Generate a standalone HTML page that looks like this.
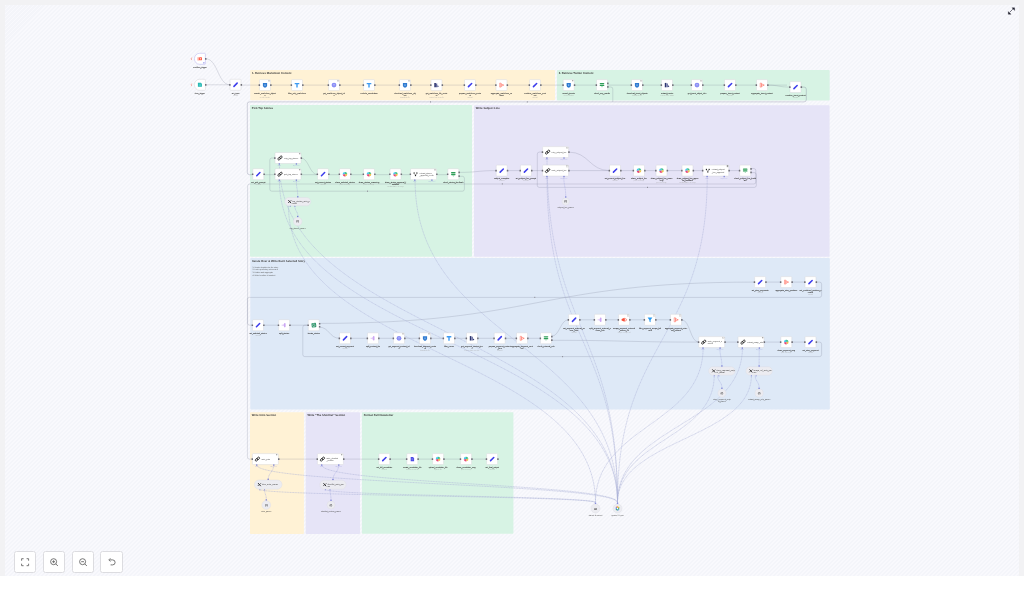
<!DOCTYPE html>
<html><head><meta charset="utf-8"><style>
html,body{margin:0;padding:0;width:1024px;height:601px;overflow:hidden;background:#fff;font-family:"Liberation Sans",sans-serif}
.frame{position:absolute;left:0;top:0;width:1024px;height:576px;background:#f2f2f4}
.canvas{position:absolute;left:5px;top:5px;width:1014px;height:571px;background-color:#f6f7fb;
background-image:repeating-linear-gradient(135deg,#f9f9fd 0px,#f9f9fd 1.4px,#f4f5fa 1.4px,#f4f5fa 2.83px)}
svg{position:absolute;left:0;top:0;will-change:transform}
svg text{font-family:"Liberation Sans",sans-serif;text-rendering:geometricPrecision}
.btn{position:absolute;top:551px;width:22.4px;height:22px;background:#fff;border:1px solid #dcdce0;border-radius:2.5px;box-sizing:border-box}
.btn svg{position:absolute;left:0;top:0;will-change:transform}
</style></head><body>
<div class="frame"></div>
<div class="canvas"></div>
<svg width="1024" height="601" viewBox="0 0 1024 601">
<rect x="250.2" y="70.0" width="304.8" height="30.2" rx="0.8" fill="#fff2d5"/>
<text x="252.00" y="74.20" font-size="2.75" font-weight="bold" fill="#3a3a3a">1. Retrieve Markdown Content</text>
<rect x="556.9" y="70.0" width="272.8" height="30.4" rx="0.8" fill="#d7f3e4"/>
<text x="558.70" y="74.20" font-size="2.75" font-weight="bold" fill="#3a3a3a">2. Retrieve Twitter Content</text>
<rect x="250.0" y="105.0" width="222.0" height="151.8" rx="0.8" fill="#d7f3e4"/>
<text x="251.80" y="109.20" font-size="2.75" font-weight="bold" fill="#3a3a3a">Pick Top Stories</text>
<rect x="474.0" y="105.2" width="355.6" height="151.6" rx="0.8" fill="#e6e4f7"/>
<text x="475.80" y="109.40" font-size="2.75" font-weight="bold" fill="#3a3a3a">Write Subject Line</text>
<rect x="250.3" y="258.0" width="579.5" height="151.6" rx="0.8" fill="#dee9f7"/>
<text x="252.10" y="262.20" font-size="2.75" font-weight="bold" fill="#3a3a3a">Iterate Over &amp; Write Each Selected Story</text>
<text x="252.50" y="267.50" font-size="1.9" fill="#555">1. Iterate identifier for the story</text>
<text x="252.50" y="270.20" font-size="1.9" fill="#555">2. Look up all story references</text>
<text x="252.50" y="272.90" font-size="1.9" fill="#555">3. Flatten and aggregate</text>
<text x="252.50" y="275.60" font-size="1.9" fill="#555">4. Write headline &amp; content</text>
<rect x="250.0" y="412.2" width="53.9" height="121.8" rx="0.8" fill="#fff2d5"/>
<text x="251.80" y="416.40" font-size="2.75" font-weight="bold" fill="#3a3a3a">Write Intro Section</text>
<rect x="305.7" y="412.2" width="54.3" height="121.8" rx="0.8" fill="#e6e4f7"/>
<text x="307.50" y="416.40" font-size="2.75" font-weight="bold" fill="#3a3a3a">Write "The Shortlist" Section</text>
<rect x="361.9" y="412.2" width="151.5" height="121.6" rx="0.8" fill="#d7f3e4"/>
<text x="363.70" y="416.40" font-size="2.75" font-weight="bold" fill="#3a3a3a">Format Full Newsletter</text>
<path d="M205.70,58.80 C217.85,58.80 217.85,84.80 230.00,84.80" fill="none" stroke="rgba(105,110,135,0.30)" stroke-width="0.7"/>
<path d="M205.70,84.80 L230.00,84.80" fill="none" stroke="rgba(105,110,135,0.30)" stroke-width="0.7"/>
<path d="M241.00,85.10 L787.00,85.10" fill="none" stroke="rgba(105,110,135,0.30)" stroke-width="0.7"/>
<path d="M767.30,85.10 C778.65,85.10 778.65,87.10 790.00,87.10" fill="none" stroke="rgba(105,110,135,0.30)" stroke-width="0.7"/>
<path d="M801.00,87.10 L804.10,87.10 Q806.30,87.10 806.30,89.30 L806.30,99.70 Q806.30,101.90 804.10,101.90 L249.50,101.90 Q247.30,101.90 247.30,104.10 L247.30,172.50 Q247.30,174.70 249.50,174.70 L252.80,174.70" fill="none" stroke="rgba(105,110,135,0.30)" stroke-width="0.95"/>
<path d="M607.50,87.00 L610.80,87.00 Q612.80,87.00 612.80,89.00 L612.80,101.90" fill="none" stroke="rgba(105,110,135,0.30)" stroke-width="0.7"/>
<path d="M263.80,174.70 L275.00,174.70" fill="none" stroke="rgba(105,110,135,0.30)" stroke-width="0.7"/>
<path d="M300.50,158.00 C309.15,158.00 309.15,174.70 317.80,174.70" fill="none" stroke="rgba(105,110,135,0.30)" stroke-width="0.7"/>
<path d="M300.50,174.70 L447.80,174.70" fill="none" stroke="rgba(105,110,135,0.30)" stroke-width="0.7"/>
<path d="M458.70,172.40 C477.45,172.40 477.45,170.60 496.20,170.60" fill="none" stroke="rgba(105,110,135,0.30)" stroke-width="0.7"/>
<path d="M458.70,176.30 L462.40,176.30 Q464.40,176.30 464.40,178.30 L464.40,189.20 Q464.40,191.20 462.40,191.20 L271.80,191.20 Q269.80,191.20 269.80,189.20 L269.80,160.00 Q269.80,158.00 271.80,158.00 L275.00,158.00" fill="none" stroke="rgba(105,110,135,0.30)" stroke-width="0.7"/>
<path d="M507.00,170.60 L542.60,170.60" fill="none" stroke="rgba(105,110,135,0.30)" stroke-width="0.7"/>
<path d="M568.60,152.10 C589.15,152.10 589.15,170.60 609.70,170.60" fill="none" stroke="rgba(105,110,135,0.30)" stroke-width="0.7"/>
<path d="M568.60,170.60 L739.70,170.60" fill="none" stroke="rgba(105,110,135,0.30)" stroke-width="0.7"/>
<path d="M750.40,168.50 L753.80,168.50 Q755.80,168.50 755.80,170.50 L755.80,182.00 Q755.80,184.00 753.80,184.00 L249.60,184.00 Q247.60,184.00 247.60,186.00 L247.60,323.20 Q247.60,325.20 249.60,325.20 L252.50,325.20" fill="none" stroke="rgba(105,110,135,0.30)" stroke-width="0.7"/>
<path d="M750.40,172.60 L754.30,172.60 Q756.30,172.60 756.30,174.60 L756.30,185.40 Q756.30,187.40 754.30,187.40 L539.30,187.40 Q537.30,187.40 537.30,185.40 L537.30,154.10 Q537.30,152.10 539.30,152.10 L542.60,152.10" fill="none" stroke="rgba(105,110,135,0.30)" stroke-width="0.7"/>
<path d="M263.30,325.20 L308.30,325.20" fill="none" stroke="rgba(105,110,135,0.30)" stroke-width="0.7"/>
<path d="M319.00,323.40 C536.80,323.40 536.80,282.10 754.60,282.10" fill="none" stroke="rgba(105,110,135,0.30)" stroke-width="0.7"/>
<path d="M319.00,327.10 C329.30,327.10 329.30,338.30 339.60,338.30" fill="none" stroke="rgba(105,110,135,0.30)" stroke-width="0.7"/>
<path d="M350.40,338.30 L540.50,338.30" fill="none" stroke="rgba(105,110,135,0.30)" stroke-width="0.7"/>
<path d="M551.40,336.20 C560.00,336.20 560.00,319.80 568.60,319.80" fill="none" stroke="rgba(105,110,135,0.30)" stroke-width="0.7"/>
<path d="M579.20,319.80 L671.00,319.80" fill="none" stroke="rgba(105,110,135,0.30)" stroke-width="0.7"/>
<path d="M551.40,340.30 C625.05,340.30 625.05,342.10 698.70,342.10" fill="none" stroke="rgba(105,110,135,0.30)" stroke-width="0.7"/>
<path d="M681.60,319.80 C690.15,319.80 690.15,342.10 698.70,342.10" fill="none" stroke="rgba(105,110,135,0.30)" stroke-width="0.7"/>
<path d="M724.70,342.10 L805.00,342.10" fill="none" stroke="rgba(105,110,135,0.30)" stroke-width="0.7"/>
<path d="M816.00,342.10 L819.60,342.10 Q821.60,342.10 821.60,344.10 L821.60,354.60 Q821.60,356.60 819.60,356.60 L304.80,356.60 Q302.80,356.60 302.80,354.60 L302.80,327.20 Q302.80,325.20 304.80,325.20 L308.30,325.20" fill="none" stroke="rgba(105,110,135,0.30)" stroke-width="0.7"/>
<path d="M765.60,282.10 L805.00,282.10" fill="none" stroke="rgba(105,110,135,0.30)" stroke-width="0.7"/>
<path d="M816.00,282.10 L819.60,282.10 Q821.60,282.10 821.60,284.10 L821.60,295.40 Q821.60,297.40 819.60,297.40 L249.40,297.40 Q247.40,297.40 247.40,299.40 L247.40,457.10 Q247.40,459.10 249.40,459.10 L252.40,459.10" fill="none" stroke="rgba(105,110,135,0.30)" stroke-width="0.7"/>
<path d="M278.40,459.10 L486.60,459.10" fill="none" stroke="rgba(105,110,135,0.30)" stroke-width="0.7"/>
<rect x="430.05" y="101.30" width="0.9" height="1.2" fill="#8a8a94"/>
<rect x="526.85" y="101.30" width="0.9" height="1.2" fill="#8a8a94"/>
<rect x="501.85" y="183.30" width="0.9" height="1.2" fill="#8a8a94"/>
<rect x="367.05" y="190.60" width="0.9" height="1.2" fill="#8a8a94"/>
<rect x="647.05" y="186.80" width="0.9" height="1.2" fill="#8a8a94"/>
<rect x="562.15" y="356.00" width="0.9" height="1.2" fill="#8a8a94"/>
<rect x="534.35" y="296.80" width="0.9" height="1.2" fill="#8a8a94"/>
<path d="M296.30,180.30 C296.30,188.80 297.80,188.80 297.80,197.30" fill="none" stroke="#a3a7dd" stroke-width="0.45" stroke-dasharray="1.2 0.4"/>
<path d="M294.90,206.00 C294.90,211.40 298.00,211.40 298.00,216.80" fill="none" stroke="#a3a7dd" stroke-width="0.45" stroke-dasharray="1.2 0.4"/>
<path d="M563.80,176.30 C563.80,186.40 565.70,186.40 565.70,196.50" fill="none" stroke="#a3a7dd" stroke-width="0.45" stroke-dasharray="1.2 0.4"/>
<path d="M719.90,347.80 C719.90,357.15 721.90,357.15 721.90,366.50" fill="none" stroke="#a3a7dd" stroke-width="0.45" stroke-dasharray="1.2 0.4"/>
<path d="M717.60,375.30 C717.60,381.55 721.90,381.55 721.90,387.80" fill="none" stroke="#a3a7dd" stroke-width="0.45" stroke-dasharray="1.2 0.4"/>
<path d="M759.20,347.80 C759.20,357.15 759.10,357.15 759.10,366.50" fill="none" stroke="#a3a7dd" stroke-width="0.45" stroke-dasharray="1.2 0.4"/>
<path d="M755.20,375.30 C755.20,381.55 759.10,381.55 759.10,387.80" fill="none" stroke="#a3a7dd" stroke-width="0.45" stroke-dasharray="1.2 0.4"/>
<path d="M273.60,465.00 C273.60,472.45 268.20,472.45 268.20,479.90" fill="none" stroke="#a3a7dd" stroke-width="0.45" stroke-dasharray="1.2 0.4"/>
<path d="M264.60,489.30 C264.60,494.35 266.30,494.35 266.30,499.40" fill="none" stroke="#a3a7dd" stroke-width="0.45" stroke-dasharray="1.2 0.4"/>
<path d="M338.60,465.00 C338.60,472.50 333.00,472.50 333.00,480.00" fill="none" stroke="#a3a7dd" stroke-width="0.45" stroke-dasharray="1.2 0.4"/>
<path d="M330.00,489.30 C330.00,494.55 331.00,494.55 331.00,499.80" fill="none" stroke="#a3a7dd" stroke-width="0.45" stroke-dasharray="1.2 0.4"/>
<path d="M279.40,180.30 C279.40,341.45 617.50,341.45 617.50,502.60" fill="none" stroke="#aab1d6" stroke-width="0.5" stroke-dasharray="1.2 0.4"/>
<path d="M288.50,206.00 C288.50,354.30 595.50,354.30 595.50,502.60" fill="none" stroke="#aab1d6" stroke-width="0.5" stroke-dasharray="1.2 0.4"/>
<path d="M279.40,163.50 C279.40,333.05 617.50,333.05 617.50,502.60" fill="none" stroke="#aab1d6" stroke-width="0.5" stroke-dasharray="1.2 0.4"/>
<path d="M415.10,180.30 C415.10,341.45 617.50,341.45 617.50,502.60" fill="none" stroke="#aab1d6" stroke-width="0.5" stroke-dasharray="1.2 0.4"/>
<path d="M547.00,176.30 C547.00,339.45 617.50,339.45 617.50,502.60" fill="none" stroke="#aab1d6" stroke-width="0.5" stroke-dasharray="1.2 0.4"/>
<path d="M547.00,157.60 C547.00,330.10 617.50,330.10 617.50,502.60" fill="none" stroke="#aab1d6" stroke-width="0.5" stroke-dasharray="1.2 0.4"/>
<path d="M707.20,176.30 C707.20,339.45 617.50,339.45 617.50,502.60" fill="none" stroke="#aab1d6" stroke-width="0.5" stroke-dasharray="1.2 0.4"/>
<path d="M703.10,347.80 C703.10,425.20 595.50,425.20 595.50,502.60" fill="none" stroke="#aab1d6" stroke-width="0.5" stroke-dasharray="1.2 0.4"/>
<path d="M714.20,375.30 C714.20,438.95 617.50,438.95 617.50,502.60" fill="none" stroke="#aab1d6" stroke-width="0.5" stroke-dasharray="1.2 0.4"/>
<path d="M742.40,347.80 C742.40,425.20 617.50,425.20 617.50,502.60" fill="none" stroke="#aab1d6" stroke-width="0.5" stroke-dasharray="1.2 0.4"/>
<path d="M751.40,375.30 C751.40,438.95 617.50,438.95 617.50,502.60" fill="none" stroke="#aab1d6" stroke-width="0.5" stroke-dasharray="1.2 0.4"/>
<path d="M256.80,465.00 C256.80,483.80 617.50,483.80 617.50,502.60" fill="none" stroke="#aab1d6" stroke-width="0.5" stroke-dasharray="1.2 0.4"/>
<path d="M259.90,489.30 C259.90,495.95 595.50,495.95 595.50,502.60" fill="none" stroke="#aab1d6" stroke-width="0.5" stroke-dasharray="1.2 0.4"/>
<path d="M321.80,465.00 C321.80,483.80 617.50,483.80 617.50,502.60" fill="none" stroke="#aab1d6" stroke-width="0.5" stroke-dasharray="1.2 0.4"/>
<path d="M325.30,489.30 C325.30,495.95 595.50,495.95 595.50,502.60" fill="none" stroke="#aab1d6" stroke-width="0.5" stroke-dasharray="1.2 0.4"/>
<path d="M199.60,53.30 L204.60,53.30 Q205.40,53.30 205.40,54.10 L205.40,63.50 Q205.40,64.30 204.60,64.30 L199.60,64.30 A5.2,5.5 0 0 1 199.60,53.30Z" fill="#fff" stroke="#b9b5ef" stroke-width="0.55"/>
<path d="M191.80,57.50 L191.00,58.90 L191.70,58.90 L191.30,60.10" fill="none" stroke="#f26b5b" stroke-width="0.45"/>
<circle cx="203.90" cy="62.80" r="0.6" fill="#5a5ae0"/>
<rect x="205.00" y="58.00" width="1.5" height="1.7" rx="0.3" fill="#6f6f78"/>
<g transform="translate(199.90,58.80) scale(1.0)"><path d="M-2.2,-1.6 L-1.4,-1.6 L-1.4,1.6 L-2.2,1.6Z" fill="#ff5b47"/><rect x="-0.9" y="-1.5" width="3" height="3" rx="0.6" fill="#ff5b47"/><circle cx="0.6" cy="0" r="0.7" fill="#ffd0c8"/></g>
<text x="199.90" y="67.50" font-size="1.9" fill="#383838" text-anchor="middle" stroke="#383838" stroke-width="0.045">workflow_trigger</text>
<path d="M199.60,79.30 L204.60,79.30 Q205.40,79.30 205.40,80.10 L205.40,89.50 Q205.40,90.30 204.60,90.30 L199.60,90.30 A5.2,5.5 0 0 1 199.60,79.30Z" fill="#fff" stroke="#cfcfd4" stroke-width="0.45"/>
<path d="M191.80,83.50 L191.00,84.90 L191.70,84.90 L191.30,86.10" fill="none" stroke="#f26b5b" stroke-width="0.45"/>
<rect x="205.00" y="84.00" width="1.5" height="1.7" rx="0.3" fill="#6f6f78"/>
<g transform="translate(199.90,84.80) scale(1.0)"><path d="M-2,-2 L1,-2 L2,-1 L2,2 L-2,2Z" fill="#22b5b0"/><path d="M-1.2,-0.6 L1.2,-0.6 M-1.2,0.6 L1.2,0.6" stroke="#bff" stroke-width="0.3"/></g>
<text x="199.90" y="93.50" font-size="1.9" fill="#383838" text-anchor="middle" stroke="#383838" stroke-width="0.045">form_trigger</text>
<rect x="230.00" y="79.30" width="11.00" height="11.00" rx="0.9" fill="#fff" stroke="#d4d4d8" stroke-width="0.45"/>
<rect x="229.10" y="84.00" width="1.5" height="1.7" rx="0.3" fill="#6f6f78"/>
<rect x="240.60" y="84.00" width="1.5" height="1.7" rx="0.3" fill="#6f6f78"/>
<g transform="translate(235.50,84.80) scale(1.0)"><path d="M-1.55,1.55 L1.65,-1.65" stroke="#3d3dec" stroke-width="1.55" stroke-linecap="round"/></g>
<text x="235.50" y="93.50" font-size="1.9" fill="#383838" text-anchor="middle" stroke="#383838" stroke-width="0.045">set_input</text>
<text x="235.50" y="95.65" font-size="1.6" fill="#a0a0a0" text-anchor="middle">manual</text>
<rect x="259.50" y="79.60" width="11.00" height="11.00" rx="0.9" fill="#fff" stroke="#d4d4d8" stroke-width="0.45"/>
<rect x="258.60" y="84.30" width="1.5" height="1.7" rx="0.3" fill="#6f6f78"/>
<rect x="270.10" y="84.30" width="1.5" height="1.7" rx="0.3" fill="#6f6f78"/>
<g transform="translate(265.00,85.10) scale(1.0)"><path d="M-2.1,-2 L2.1,-2 L2.1,0.3 Q2.1,2 0,2.6 Q-2.1,2 -2.1,0.3 Z" fill="#2f7ad0"/><path d="M-0.5,-0.8 L0.5,-0.8 L0.5,0.9 L-0.5,0.9Z" fill="#8fc0f0"/></g>
<rect x="268.50" y="80.20" width="1.4" height="1.2" fill="none" stroke="#999" stroke-width="0.25"/>
<text x="265.00" y="93.80" font-size="1.9" fill="#383838" text-anchor="middle" stroke="#383838" stroke-width="0.045">search_markdown_object</text>
<text x="265.00" y="95.80" font-size="1.9" fill="#383838" text-anchor="middle" stroke="#383838" stroke-width="0.045">s</text>
<text x="265.00" y="97.95" font-size="1.6" fill="#a0a0a0" text-anchor="middle">search: bucket</text>
<rect x="291.50" y="79.60" width="11.00" height="11.00" rx="0.9" fill="#fff" stroke="#d4d4d8" stroke-width="0.45"/>
<rect x="290.60" y="84.30" width="1.5" height="1.7" rx="0.3" fill="#6f6f78"/>
<rect x="302.10" y="84.30" width="1.5" height="1.7" rx="0.3" fill="#6f6f78"/>
<g transform="translate(297.00,85.10) scale(1.0)"><path d="M-2.3,-2.2 L2.3,-2.2 L2.3,-0.9 L0.7,-0.9 L0.7,2.4 L-0.7,2.4 L-0.7,-0.9 L-2.3,-0.9Z" fill="#3d9bf2"/></g>
<text x="297.00" y="93.80" font-size="1.9" fill="#383838" text-anchor="middle" stroke="#383838" stroke-width="0.045">filter_only_markdown</text>
<rect x="328.50" y="79.60" width="11.00" height="11.00" rx="0.9" fill="#fff" stroke="#d4d4d8" stroke-width="0.45"/>
<rect x="327.60" y="84.30" width="1.5" height="1.7" rx="0.3" fill="#6f6f78"/>
<rect x="339.10" y="84.30" width="1.5" height="1.7" rx="0.3" fill="#6f6f78"/>
<g transform="translate(334.00,85.10) scale(1.0)"><circle r="2.4" fill="#8a8ef5"/><path d="M-1,-0.6 L1,-0.6 M-0.6,0.5 L0.6,0.5" stroke="#d4d6ff" stroke-width="0.4"/></g>
<rect x="337.50" y="80.20" width="1.4" height="1.2" fill="none" stroke="#999" stroke-width="0.25"/>
<text x="334.00" y="93.80" font-size="1.9" fill="#383838" text-anchor="middle" stroke="#383838" stroke-width="0.045">get_markdown_object_inf</text>
<text x="334.00" y="95.80" font-size="1.9" fill="#383838" text-anchor="middle" stroke="#383838" stroke-width="0.045">o</text>
<rect x="363.50" y="79.60" width="11.00" height="11.00" rx="0.9" fill="#fff" stroke="#d4d4d8" stroke-width="0.45"/>
<rect x="362.60" y="84.30" width="1.5" height="1.7" rx="0.3" fill="#6f6f78"/>
<rect x="374.10" y="84.30" width="1.5" height="1.7" rx="0.3" fill="#6f6f78"/>
<g transform="translate(369.00,85.10) scale(1.0)"><path d="M-2.3,-2.2 L2.3,-2.2 L2.3,-0.9 L0.7,-0.9 L0.7,2.4 L-0.7,2.4 L-0.7,-0.9 L-2.3,-0.9Z" fill="#3d9bf2"/></g>
<text x="369.00" y="93.80" font-size="1.9" fill="#383838" text-anchor="middle" stroke="#383838" stroke-width="0.045">exclude_newsletters</text>
<rect x="399.50" y="79.60" width="11.00" height="11.00" rx="0.9" fill="#fff" stroke="#d4d4d8" stroke-width="0.45"/>
<rect x="398.60" y="84.30" width="1.5" height="1.7" rx="0.3" fill="#6f6f78"/>
<rect x="410.10" y="84.30" width="1.5" height="1.7" rx="0.3" fill="#6f6f78"/>
<g transform="translate(405.00,85.10) scale(1.0)"><path d="M-2.1,-2 L2.1,-2 L2.1,0.3 Q2.1,2 0,2.6 Q-2.1,2 -2.1,0.3 Z" fill="#2f7ad0"/><path d="M-0.5,-0.8 L0.5,-0.8 L0.5,0.9 L-0.5,0.9Z" fill="#8fc0f0"/></g>
<rect x="408.50" y="80.20" width="1.4" height="1.2" fill="none" stroke="#999" stroke-width="0.25"/>
<text x="405.00" y="93.80" font-size="1.9" fill="#383838" text-anchor="middle" stroke="#383838" stroke-width="0.045">download_markdown_obj</text>
<text x="405.00" y="95.80" font-size="1.9" fill="#383838" text-anchor="middle" stroke="#383838" stroke-width="0.045">ect</text>
<text x="405.00" y="97.95" font-size="1.6" fill="#a0a0a0" text-anchor="middle">download: file</text>
<rect x="431.00" y="79.60" width="11.00" height="11.00" rx="0.9" fill="#fff" stroke="#d4d4d8" stroke-width="0.45"/>
<rect x="430.10" y="84.30" width="1.5" height="1.7" rx="0.3" fill="#6f6f78"/>
<rect x="441.60" y="84.30" width="1.5" height="1.7" rx="0.3" fill="#6f6f78"/>
<g transform="translate(436.50,85.10) scale(1.0)"><path d="M-2.2,-2.2 L-0.6,-2.2 L-0.6,2.2 L-2.2,2.2Z" fill="#2c3470"/><path d="M-0.3,-1.6 L0.7,-1.6 L0.7,2.2 L-0.3,2.2Z" fill="#3b4487"/><path d="M1,0.2 L2.4,1.2 L1,2.2Z" fill="#2c3470"/></g>
<text x="436.50" y="93.80" font-size="1.9" fill="#383838" text-anchor="middle" stroke="#383838" stroke-width="0.045">get_markdown_file_conte</text>
<text x="436.50" y="95.80" font-size="1.9" fill="#383838" text-anchor="middle" stroke="#383838" stroke-width="0.045">nt</text>
<text x="436.50" y="97.95" font-size="1.6" fill="#a0a0a0" text-anchor="middle">Extract from Text File</text>
<rect x="464.50" y="79.60" width="11.00" height="11.00" rx="0.9" fill="#fff" stroke="#d4d4d8" stroke-width="0.45"/>
<rect x="463.60" y="84.30" width="1.5" height="1.7" rx="0.3" fill="#6f6f78"/>
<rect x="475.10" y="84.30" width="1.5" height="1.7" rx="0.3" fill="#6f6f78"/>
<g transform="translate(470.00,85.10) scale(1.0)"><path d="M-1.55,1.55 L1.65,-1.65" stroke="#3d3dec" stroke-width="1.55" stroke-linecap="round"/></g>
<text x="470.00" y="93.80" font-size="1.9" fill="#383838" text-anchor="middle" stroke="#383838" stroke-width="0.045">prepare_markdown_conte</text>
<text x="470.00" y="95.80" font-size="1.9" fill="#383838" text-anchor="middle" stroke="#383838" stroke-width="0.045">nt</text>
<text x="470.00" y="97.95" font-size="1.6" fill="#a0a0a0" text-anchor="middle">manual</text>
<rect x="496.00" y="79.60" width="11.00" height="11.00" rx="0.9" fill="#fff" stroke="#d4d4d8" stroke-width="0.45"/>
<rect x="495.10" y="84.30" width="1.5" height="1.7" rx="0.3" fill="#6f6f78"/>
<rect x="506.60" y="84.30" width="1.5" height="1.7" rx="0.3" fill="#6f6f78"/>
<g transform="translate(501.50,85.10) scale(1.0)"><path d="M-1.8,-2 L-0.6,-2 L-0.6,2 L-1.8,2Z M-0.3,-1.3 L2,0 L-0.3,1.3Z" fill="none" stroke="#ff6b5b" stroke-width="0.55"/><path d="M1.2,0 L2.6,0" stroke="#ff6b5b" stroke-width="0.5"/></g>
<text x="501.50" y="93.80" font-size="1.9" fill="#383838" text-anchor="middle" stroke="#383838" stroke-width="0.045">aggregate_markdown_co</text>
<text x="501.50" y="95.80" font-size="1.9" fill="#383838" text-anchor="middle" stroke="#383838" stroke-width="0.045">ntent</text>
<rect x="529.50" y="79.60" width="11.00" height="11.00" rx="0.9" fill="#fff" stroke="#d4d4d8" stroke-width="0.45"/>
<rect x="528.60" y="84.30" width="1.5" height="1.7" rx="0.3" fill="#6f6f78"/>
<rect x="540.10" y="84.30" width="1.5" height="1.7" rx="0.3" fill="#6f6f78"/>
<g transform="translate(535.00,85.10) scale(1.0)"><path d="M-1.55,1.55 L1.65,-1.65" stroke="#3d3dec" stroke-width="1.55" stroke-linecap="round"/></g>
<text x="535.00" y="93.80" font-size="1.9" fill="#383838" text-anchor="middle" stroke="#383838" stroke-width="0.045">combine_markdown_cont</text>
<text x="535.00" y="95.80" font-size="1.9" fill="#383838" text-anchor="middle" stroke="#383838" stroke-width="0.045">ent</text>
<text x="535.00" y="97.95" font-size="1.6" fill="#a0a0a0" text-anchor="middle">manual</text>
<rect x="563.20" y="79.60" width="11.00" height="11.00" rx="0.9" fill="#fff" stroke="#d4d4d8" stroke-width="0.45"/>
<rect x="562.30" y="84.30" width="1.5" height="1.7" rx="0.3" fill="#6f6f78"/>
<rect x="573.80" y="84.30" width="1.5" height="1.7" rx="0.3" fill="#6f6f78"/>
<g transform="translate(568.70,85.10) scale(1.0)"><path d="M-2.1,-2 L2.1,-2 L2.1,0.3 Q2.1,2 0,2.6 Q-2.1,2 -2.1,0.3 Z" fill="#2f7ad0"/><path d="M-0.5,-0.8 L0.5,-0.8 L0.5,0.9 L-0.5,0.9Z" fill="#8fc0f0"/></g>
<rect x="572.20" y="80.20" width="1.4" height="1.2" fill="none" stroke="#999" stroke-width="0.25"/>
<text x="568.70" y="93.80" font-size="1.9" fill="#383838" text-anchor="middle" stroke="#383838" stroke-width="0.045">search_tweets</text>
<text x="568.70" y="95.95" font-size="1.6" fill="#a0a0a0" text-anchor="middle">search: bucket</text>
<rect x="596.50" y="79.60" width="11.00" height="11.00" rx="0.9" fill="#fff" stroke="#d4d4d8" stroke-width="0.45"/>
<rect x="595.60" y="84.30" width="1.5" height="1.7" rx="0.3" fill="#6f6f78"/>
<rect x="607.10" y="82.50" width="1.5" height="1.7" rx="0.3" fill="#6f6f78"/>
<rect x="607.10" y="86.10" width="1.5" height="1.7" rx="0.3" fill="#6f6f78"/>
<g transform="translate(602.00,85.10) scale(1.0)"><rect x="-2.3" y="-2.1" width="4.6" height="1.3" rx="0.65" fill="#2e9e58"/><rect x="-2.3" y="-0.3" width="4.6" height="1.3" rx="0.65" fill="#2e9e58"/><path d="M-0.9,1.2 L0.9,1.2 L0,2.5Z" fill="#7cc79a"/></g>
<text x="602.00" y="93.80" font-size="1.9" fill="#383838" text-anchor="middle" stroke="#383838" stroke-width="0.045">check_any_results</text>
<rect x="631.50" y="79.60" width="11.00" height="11.00" rx="0.9" fill="#fff" stroke="#d4d4d8" stroke-width="0.45"/>
<rect x="630.60" y="84.30" width="1.5" height="1.7" rx="0.3" fill="#6f6f78"/>
<rect x="642.10" y="84.30" width="1.5" height="1.7" rx="0.3" fill="#6f6f78"/>
<g transform="translate(637.00,85.10) scale(1.0)"><path d="M-2.1,-2 L2.1,-2 L2.1,0.3 Q2.1,2 0,2.6 Q-2.1,2 -2.1,0.3 Z" fill="#2f7ad0"/><path d="M-0.5,-0.8 L0.5,-0.8 L0.5,0.9 L-0.5,0.9Z" fill="#8fc0f0"/></g>
<rect x="640.50" y="80.20" width="1.4" height="1.2" fill="none" stroke="#999" stroke-width="0.25"/>
<text x="637.00" y="93.80" font-size="1.9" fill="#383838" text-anchor="middle" stroke="#383838" stroke-width="0.045">download_tweet_objects</text>
<text x="637.00" y="95.95" font-size="1.6" fill="#a0a0a0" text-anchor="middle">download: file</text>
<rect x="661.50" y="79.60" width="11.00" height="11.00" rx="0.9" fill="#fff" stroke="#d4d4d8" stroke-width="0.45"/>
<rect x="660.60" y="84.30" width="1.5" height="1.7" rx="0.3" fill="#6f6f78"/>
<rect x="672.10" y="84.30" width="1.5" height="1.7" rx="0.3" fill="#6f6f78"/>
<g transform="translate(667.00,85.10) scale(1.0)"><path d="M-2.2,-2.2 L-0.6,-2.2 L-0.6,2.2 L-2.2,2.2Z" fill="#2c3470"/><path d="M-0.3,-1.6 L0.7,-1.6 L0.7,2.2 L-0.3,2.2Z" fill="#3b4487"/><path d="M1,0.2 L2.4,1.2 L1,2.2Z" fill="#2c3470"/></g>
<text x="667.00" y="93.80" font-size="1.9" fill="#383838" text-anchor="middle" stroke="#383838" stroke-width="0.045">extract_tweets</text>
<text x="667.00" y="95.95" font-size="1.6" fill="#a0a0a0" text-anchor="middle">Extract from JSON</text>
<rect x="691.50" y="79.60" width="11.00" height="11.00" rx="0.9" fill="#fff" stroke="#d4d4d8" stroke-width="0.45"/>
<rect x="690.60" y="84.30" width="1.5" height="1.7" rx="0.3" fill="#6f6f78"/>
<rect x="702.10" y="84.30" width="1.5" height="1.7" rx="0.3" fill="#6f6f78"/>
<g transform="translate(697.00,85.10) scale(1.0)"><circle r="2.4" fill="#8a8ef5"/><path d="M-1,-0.6 L1,-0.6 M-0.6,0.5 L0.6,0.5" stroke="#d4d6ff" stroke-width="0.4"/></g>
<rect x="700.50" y="80.20" width="1.4" height="1.2" fill="none" stroke="#999" stroke-width="0.25"/>
<text x="697.00" y="93.80" font-size="1.9" fill="#383838" text-anchor="middle" stroke="#383838" stroke-width="0.045">get_tweet_object_info</text>
<rect x="724.50" y="79.60" width="11.00" height="11.00" rx="0.9" fill="#fff" stroke="#d4d4d8" stroke-width="0.45"/>
<rect x="723.60" y="84.30" width="1.5" height="1.7" rx="0.3" fill="#6f6f78"/>
<rect x="735.10" y="84.30" width="1.5" height="1.7" rx="0.3" fill="#6f6f78"/>
<g transform="translate(730.00,85.10) scale(1.0)"><path d="M-1.55,1.55 L1.65,-1.65" stroke="#3d3dec" stroke-width="1.55" stroke-linecap="round"/></g>
<text x="730.00" y="93.80" font-size="1.9" fill="#383838" text-anchor="middle" stroke="#383838" stroke-width="0.045">prepare_tweet_content</text>
<text x="730.00" y="95.95" font-size="1.6" fill="#a0a0a0" text-anchor="middle">manual</text>
<rect x="756.50" y="79.60" width="11.00" height="11.00" rx="0.9" fill="#fff" stroke="#d4d4d8" stroke-width="0.45"/>
<rect x="755.60" y="84.30" width="1.5" height="1.7" rx="0.3" fill="#6f6f78"/>
<rect x="767.10" y="84.30" width="1.5" height="1.7" rx="0.3" fill="#6f6f78"/>
<g transform="translate(762.00,85.10) scale(1.0)"><path d="M-1.8,-2 L-0.6,-2 L-0.6,2 L-1.8,2Z M-0.3,-1.3 L2,0 L-0.3,1.3Z" fill="none" stroke="#ff6b5b" stroke-width="0.55"/><path d="M1.2,0 L2.6,0" stroke="#ff6b5b" stroke-width="0.5"/></g>
<text x="762.00" y="93.80" font-size="1.9" fill="#383838" text-anchor="middle" stroke="#383838" stroke-width="0.045">aggregate_tweet_content</text>
<rect x="790.00" y="81.60" width="11.00" height="11.00" rx="0.9" fill="#fff" stroke="#d4d4d8" stroke-width="0.45"/>
<rect x="789.10" y="86.30" width="1.5" height="1.7" rx="0.3" fill="#6f6f78"/>
<rect x="800.60" y="86.30" width="1.5" height="1.7" rx="0.3" fill="#6f6f78"/>
<g transform="translate(795.50,87.10) scale(1.0)"><path d="M-1.55,1.55 L1.65,-1.65" stroke="#3d3dec" stroke-width="1.55" stroke-linecap="round"/></g>
<text x="795.50" y="95.80" font-size="1.9" fill="#383838" text-anchor="middle" stroke="#383838" stroke-width="0.045">combine_tweet_content</text>
<text x="795.50" y="97.95" font-size="1.6" fill="#a0a0a0" text-anchor="middle">manual</text>
<rect x="252.80" y="168.70" width="11.00" height="11.00" rx="0.9" fill="#fff" stroke="#d4d4d8" stroke-width="0.45"/>
<rect x="251.90" y="173.40" width="1.5" height="1.7" rx="0.3" fill="#6f6f78"/>
<rect x="263.40" y="173.40" width="1.5" height="1.7" rx="0.3" fill="#6f6f78"/>
<g transform="translate(258.30,174.20) scale(1.0)"><path d="M-1.55,1.55 L1.65,-1.65" stroke="#3d3dec" stroke-width="1.55" stroke-linecap="round"/></g>
<text x="258.30" y="182.90" font-size="1.9" fill="#383838" text-anchor="middle" stroke="#383838" stroke-width="0.045">set_pick_prompt</text>
<text x="258.30" y="185.05" font-size="1.6" fill="#a0a0a0" text-anchor="middle">manual</text>
<rect x="275.00" y="152.50" width="26.00" height="11.00" rx="0.9" fill="#fff" stroke="#d4d4d8" stroke-width="0.45"/>
<rect x="274.10" y="157.20" width="1.5" height="1.7" rx="0.3" fill="#6f6f78"/>
<rect x="300.60" y="157.20" width="1.5" height="1.7" rx="0.3" fill="#6f6f78"/>
<g transform="translate(280.00,158.00) scale(0.88)"><g transform="rotate(-40)"><rect x="-2.9" y="-1.1" width="3.3" height="2.2" rx="1.1" fill="none" stroke="#262626" stroke-width="0.95"/><rect x="-0.4" y="-1.1" width="3.3" height="2.2" rx="1.1" fill="none" stroke="#262626" stroke-width="0.95"/></g></g>
<text x="284.00" y="158.70" font-size="1.9" fill="#444">retry_top_stories</text>
<rect x="299.10" y="153.10" width="1.3" height="1.3" fill="none" stroke="#999" stroke-width="0.25"/>
<rect x="278.65" y="163.30" width="1.3" height="1.3" fill="#7a7fd6"/>
<text x="279.30" y="166.10" font-size="1.1" fill="#8a8fd8" text-anchor="middle">Model</text>
<rect x="295.75" y="163.30" width="1.3" height="1.3" fill="#7a7fd6"/>
<text x="296.40" y="166.10" font-size="1.1" fill="#8a8fd8" text-anchor="middle">Output Parser</text>
<rect x="275.00" y="168.70" width="26.00" height="11.00" rx="0.9" fill="#fff" stroke="#d4d4d8" stroke-width="0.45"/>
<rect x="274.10" y="173.40" width="1.5" height="1.7" rx="0.3" fill="#6f6f78"/>
<rect x="300.60" y="173.40" width="1.5" height="1.7" rx="0.3" fill="#6f6f78"/>
<g transform="translate(280.00,174.20) scale(0.88)"><g transform="rotate(-40)"><rect x="-2.9" y="-1.1" width="3.3" height="2.2" rx="1.1" fill="none" stroke="#262626" stroke-width="0.95"/><rect x="-0.4" y="-1.1" width="3.3" height="2.2" rx="1.1" fill="none" stroke="#262626" stroke-width="0.95"/></g></g>
<text x="284.00" y="174.90" font-size="1.9" fill="#444">pick_top_stories</text>
<rect x="299.10" y="169.30" width="1.3" height="1.3" fill="none" stroke="#999" stroke-width="0.25"/>
<rect x="278.65" y="179.50" width="1.3" height="1.3" fill="#7a7fd6"/>
<text x="279.30" y="182.30" font-size="1.1" fill="#8a8fd8" text-anchor="middle">Model</text>
<rect x="295.75" y="179.50" width="1.3" height="1.3" fill="#7a7fd6"/>
<text x="296.40" y="182.30" font-size="1.1" fill="#8a8fd8" text-anchor="middle">Output Parser</text>
<rect x="317.50" y="168.70" width="11.00" height="11.00" rx="0.9" fill="#fff" stroke="#d4d4d8" stroke-width="0.45"/>
<rect x="316.60" y="173.40" width="1.5" height="1.7" rx="0.3" fill="#6f6f78"/>
<rect x="328.10" y="173.40" width="1.5" height="1.7" rx="0.3" fill="#6f6f78"/>
<g transform="translate(323.00,174.20) scale(1.0)"><path d="M-1.55,1.55 L1.65,-1.65" stroke="#3d3dec" stroke-width="1.55" stroke-linecap="round"/></g>
<text x="323.00" y="182.90" font-size="1.9" fill="#383838" text-anchor="middle" stroke="#383838" stroke-width="0.045">set_current_stories</text>
<text x="323.00" y="185.05" font-size="1.6" fill="#a0a0a0" text-anchor="middle">manual</text>
<rect x="339.50" y="168.70" width="11.00" height="11.00" rx="0.9" fill="#fff" stroke="#d4d4d8" stroke-width="0.45"/>
<rect x="338.60" y="173.40" width="1.5" height="1.7" rx="0.3" fill="#6f6f78"/>
<rect x="350.10" y="173.40" width="1.5" height="1.7" rx="0.3" fill="#6f6f78"/>
<g transform="translate(345.00,174.20) scale(1.0)"><g transform="rotate(-10)"><path d="M0,0 L-2.3,0 A2.3,2.3 0 0 1 0,-2.3Z" fill="#45c6f2"/><path d="M0,0 L0,-2.3 A2.3,2.3 0 0 1 2.3,0Z" fill="#3fbf8a"/><path d="M0,0 L2.3,0 A2.3,2.3 0 0 1 0,2.3Z" fill="#f1c24a"/><path d="M0,0 L0,2.3 A2.3,2.3 0 0 1 -2.3,0Z" fill="#e8457a"/></g></g>
<text x="345.00" y="182.90" font-size="1.9" fill="#383838" text-anchor="middle" stroke="#383838" stroke-width="0.045">share_selected_stories</text>
<text x="345.00" y="185.05" font-size="1.6" fill="#a0a0a0" text-anchor="middle">post: message</text>
<rect x="363.50" y="168.70" width="11.00" height="11.00" rx="0.9" fill="#fff" stroke="#d4d4d8" stroke-width="0.45"/>
<rect x="362.60" y="173.40" width="1.5" height="1.7" rx="0.3" fill="#6f6f78"/>
<rect x="374.10" y="173.40" width="1.5" height="1.7" rx="0.3" fill="#6f6f78"/>
<g transform="translate(369.00,174.20) scale(1.0)"><g transform="rotate(-10)"><path d="M0,0 L-2.3,0 A2.3,2.3 0 0 1 0,-2.3Z" fill="#45c6f2"/><path d="M0,0 L0,-2.3 A2.3,2.3 0 0 1 2.3,0Z" fill="#3fbf8a"/><path d="M0,0 L2.3,0 A2.3,2.3 0 0 1 0,2.3Z" fill="#f1c24a"/><path d="M0,0 L0,2.3 A2.3,2.3 0 0 1 -2.3,0Z" fill="#e8457a"/></g></g>
<text x="369.00" y="182.90" font-size="1.9" fill="#383838" text-anchor="middle" stroke="#383838" stroke-width="0.045">share_stories_reasoning</text>
<text x="369.00" y="185.05" font-size="1.6" fill="#a0a0a0" text-anchor="middle">post: message</text>
<rect x="390.00" y="168.70" width="11.00" height="11.00" rx="0.9" fill="#fff" stroke="#d4d4d8" stroke-width="0.45"/>
<rect x="389.10" y="173.40" width="1.5" height="1.7" rx="0.3" fill="#6f6f78"/>
<rect x="400.60" y="173.40" width="1.5" height="1.7" rx="0.3" fill="#6f6f78"/>
<g transform="translate(395.50,174.20) scale(1.0)"><g transform="rotate(-10)"><path d="M0,0 L-2.3,0 A2.3,2.3 0 0 1 0,-2.3Z" fill="#45c6f2"/><path d="M0,0 L0,-2.3 A2.3,2.3 0 0 1 2.3,0Z" fill="#3fbf8a"/><path d="M0,0 L2.3,0 A2.3,2.3 0 0 1 0,2.3Z" fill="#f1c24a"/><path d="M0,0 L0,2.3 A2.3,2.3 0 0 1 -2.3,0Z" fill="#e8457a"/></g></g>
<text x="395.50" y="182.90" font-size="1.9" fill="#383838" text-anchor="middle" stroke="#383838" stroke-width="0.045">share_stories_approval_f</text>
<text x="395.50" y="184.90" font-size="1.9" fill="#383838" text-anchor="middle" stroke="#383838" stroke-width="0.045">eedback</text>
<text x="395.50" y="187.05" font-size="1.6" fill="#a0a0a0" text-anchor="middle">sendAndWait: message</text>
<rect x="410.50" y="168.70" width="26.00" height="11.00" rx="0.9" fill="#fff" stroke="#d4d4d8" stroke-width="0.45"/>
<rect x="409.60" y="173.40" width="1.5" height="1.7" rx="0.3" fill="#6f6f78"/>
<rect x="436.10" y="173.40" width="1.5" height="1.7" rx="0.3" fill="#6f6f78"/>
<g transform="translate(415.50,174.20) scale(0.88)"><rect x="-2.2" y="-2" width="1.3" height="1.3" fill="#222"/><rect x="0.9" y="-2" width="1.3" height="1.3" fill="#222"/><rect x="-0.65" y="0.9" width="1.3" height="1.3" fill="#222"/><path d="M-1.5,-0.7 L0,0.9 L1.5,-0.7" fill="none" stroke="#222" stroke-width="0.5"/></g>
<text x="419.50" y="173.90" font-size="1.9" fill="#444">extract_stories</text>
<text x="419.50" y="176.20" font-size="1.9" fill="#444">_approval_feedb</text>
<rect x="434.60" y="169.30" width="1.3" height="1.3" fill="none" stroke="#999" stroke-width="0.25"/>
<rect x="414.15" y="179.50" width="1.3" height="1.3" fill="#7a7fd6"/>
<text x="414.80" y="182.30" font-size="1.1" fill="#8a8fd8" text-anchor="middle">Model</text>
<rect x="431.25" y="179.50" width="1.3" height="1.3" fill="#7a7fd6"/>
<text x="431.90" y="182.30" font-size="1.1" fill="#8a8fd8" text-anchor="middle">Output Parser</text>
<rect x="447.80" y="168.70" width="11.00" height="11.00" rx="0.9" fill="#fff" stroke="#d4d4d8" stroke-width="0.45"/>
<rect x="446.90" y="173.40" width="1.5" height="1.7" rx="0.3" fill="#6f6f78"/>
<rect x="458.40" y="171.60" width="1.5" height="1.7" rx="0.3" fill="#6f6f78"/>
<rect x="458.40" y="175.20" width="1.5" height="1.7" rx="0.3" fill="#6f6f78"/>
<g transform="translate(453.30,174.20) scale(1.0)"><rect x="-2.3" y="-2.1" width="4.6" height="1.3" rx="0.65" fill="#2e9e58"/><rect x="-2.3" y="-0.3" width="4.6" height="1.3" rx="0.65" fill="#2e9e58"/><path d="M-0.9,1.2 L0.9,1.2 L0,2.5Z" fill="#7cc79a"/></g>
<text x="453.30" y="182.90" font-size="1.9" fill="#383838" text-anchor="middle" stroke="#383838" stroke-width="0.045">check_stories_feedback</text>
<rect x="284.70" y="197.50" width="26.10" height="8.30" rx="4.15" fill="#ececf1" stroke="#dcdce3" stroke-width="0.4"/>
<g transform="translate(289.70,201.65) scale(0.9)"><path d="M-1.5,-1.7 L1.5,1.7" stroke="#1f1f1f" stroke-width="1.0"/><path d="M0.5,-0.2 L1.7,-1.5 M-0.5,0.2 L-1.7,1.5" stroke="#1f1f1f" stroke-width="0.8"/></g>
<text x="292.30" y="201.55" font-size="2.05" fill="#333">top_stories_auto_p</text>
<text x="292.30" y="203.95" font-size="2.05" fill="#333">arser</text>
<path d="M289.50,206.80 L290.20,205.60 L290.90,206.80Z" fill="#7a7fd6"/>
<path d="M294.20,206.80 L294.90,205.60 L295.60,206.80Z" fill="#7a7fd6"/>
<rect x="297.05" y="196.20" width="1.4" height="1.2" fill="#7a7fd6"/>
<circle cx="297.70" cy="221.50" r="4.30" fill="#ececf1" stroke="#dcdce3" stroke-width="0.4"/>
<text x="297.70" y="222.45" font-size="2.7" font-weight="bold" text-anchor="middle" fill="#3a3a3a">{/}</text>
<rect x="297.00" y="215.90" width="1.4" height="1.2" fill="#7a7fd6"/>
<text x="297.70" y="228.60" font-size="1.9" fill="#444" text-anchor="middle">top_stories_parser</text>
<rect x="496.20" y="165.10" width="11.00" height="11.00" rx="0.9" fill="#fff" stroke="#d4d4d8" stroke-width="0.45"/>
<rect x="495.30" y="169.80" width="1.5" height="1.7" rx="0.3" fill="#6f6f78"/>
<rect x="506.80" y="169.80" width="1.5" height="1.7" rx="0.3" fill="#6f6f78"/>
<g transform="translate(501.70,170.60) scale(1.0)"><path d="M-1.55,1.55 L1.65,-1.65" stroke="#3d3dec" stroke-width="1.55" stroke-linecap="round"/></g>
<text x="501.70" y="179.30" font-size="1.9" fill="#383838" text-anchor="middle" stroke="#383838" stroke-width="0.045">subject_examples</text>
<text x="501.70" y="181.45" font-size="1.6" fill="#a0a0a0" text-anchor="middle">manual</text>
<rect x="520.40" y="165.10" width="11.00" height="11.00" rx="0.9" fill="#fff" stroke="#d4d4d8" stroke-width="0.45"/>
<rect x="519.50" y="169.80" width="1.5" height="1.7" rx="0.3" fill="#6f6f78"/>
<rect x="531.00" y="169.80" width="1.5" height="1.7" rx="0.3" fill="#6f6f78"/>
<g transform="translate(525.90,170.60) scale(1.0)"><path d="M-1.55,1.55 L1.65,-1.65" stroke="#3d3dec" stroke-width="1.55" stroke-linecap="round"/></g>
<text x="525.90" y="179.30" font-size="1.9" fill="#383838" text-anchor="middle" stroke="#383838" stroke-width="0.045">set_subject_line_prompt</text>
<text x="525.90" y="181.45" font-size="1.6" fill="#a0a0a0" text-anchor="middle">manual</text>
<rect x="542.60" y="146.60" width="26.00" height="11.00" rx="0.9" fill="#fff" stroke="#d4d4d8" stroke-width="0.45"/>
<rect x="541.70" y="151.30" width="1.5" height="1.7" rx="0.3" fill="#6f6f78"/>
<rect x="568.20" y="151.30" width="1.5" height="1.7" rx="0.3" fill="#6f6f78"/>
<g transform="translate(547.60,152.10) scale(0.88)"><g transform="rotate(-40)"><rect x="-2.9" y="-1.1" width="3.3" height="2.2" rx="1.1" fill="none" stroke="#262626" stroke-width="0.95"/><rect x="-0.4" y="-1.1" width="3.3" height="2.2" rx="1.1" fill="none" stroke="#262626" stroke-width="0.95"/></g></g>
<text x="551.60" y="152.80" font-size="1.9" fill="#444">retry_subject_line</text>
<rect x="566.70" y="147.20" width="1.3" height="1.3" fill="none" stroke="#999" stroke-width="0.25"/>
<rect x="546.25" y="157.40" width="1.3" height="1.3" fill="#7a7fd6"/>
<text x="546.90" y="160.20" font-size="1.1" fill="#8a8fd8" text-anchor="middle">Model</text>
<rect x="563.35" y="157.40" width="1.3" height="1.3" fill="#7a7fd6"/>
<text x="564.00" y="160.20" font-size="1.1" fill="#8a8fd8" text-anchor="middle">Output Parser</text>
<rect x="542.60" y="165.10" width="26.00" height="11.00" rx="0.9" fill="#fff" stroke="#d4d4d8" stroke-width="0.45"/>
<rect x="541.70" y="169.80" width="1.5" height="1.7" rx="0.3" fill="#6f6f78"/>
<rect x="568.20" y="169.80" width="1.5" height="1.7" rx="0.3" fill="#6f6f78"/>
<g transform="translate(547.60,170.60) scale(0.88)"><g transform="rotate(-40)"><rect x="-2.9" y="-1.1" width="3.3" height="2.2" rx="1.1" fill="none" stroke="#262626" stroke-width="0.95"/><rect x="-0.4" y="-1.1" width="3.3" height="2.2" rx="1.1" fill="none" stroke="#262626" stroke-width="0.95"/></g></g>
<text x="551.60" y="171.30" font-size="1.9" fill="#444">write_subject_line</text>
<rect x="566.70" y="165.70" width="1.3" height="1.3" fill="none" stroke="#999" stroke-width="0.25"/>
<rect x="546.25" y="175.90" width="1.3" height="1.3" fill="#7a7fd6"/>
<text x="546.90" y="178.70" font-size="1.1" fill="#8a8fd8" text-anchor="middle">Model</text>
<rect x="563.35" y="175.90" width="1.3" height="1.3" fill="#7a7fd6"/>
<text x="564.00" y="178.70" font-size="1.1" fill="#8a8fd8" text-anchor="middle">Output Parser</text>
<circle cx="565.70" cy="201.50" r="3.80" fill="#ececf1" stroke="#dcdce3" stroke-width="0.4"/>
<text x="565.70" y="202.45" font-size="2.7" font-weight="bold" text-anchor="middle" fill="#3a3a3a">{/}</text>
<rect x="565.00" y="196.40" width="1.4" height="1.2" fill="#7a7fd6"/>
<text x="565.70" y="208.10" font-size="1.9" fill="#444" text-anchor="middle">subject_line_parser</text>
<rect x="609.50" y="165.10" width="11.00" height="11.00" rx="0.9" fill="#fff" stroke="#d4d4d8" stroke-width="0.45"/>
<rect x="608.60" y="169.80" width="1.5" height="1.7" rx="0.3" fill="#6f6f78"/>
<rect x="620.10" y="169.80" width="1.5" height="1.7" rx="0.3" fill="#6f6f78"/>
<g transform="translate(615.00,170.60) scale(1.0)"><path d="M-1.55,1.55 L1.65,-1.65" stroke="#3d3dec" stroke-width="1.55" stroke-linecap="round"/></g>
<text x="615.00" y="179.30" font-size="1.9" fill="#383838" text-anchor="middle" stroke="#383838" stroke-width="0.045">set_current_subject_line</text>
<text x="615.00" y="181.45" font-size="1.6" fill="#a0a0a0" text-anchor="middle">manual</text>
<rect x="633.50" y="165.10" width="11.00" height="11.00" rx="0.9" fill="#fff" stroke="#d4d4d8" stroke-width="0.45"/>
<rect x="632.60" y="169.80" width="1.5" height="1.7" rx="0.3" fill="#6f6f78"/>
<rect x="644.10" y="169.80" width="1.5" height="1.7" rx="0.3" fill="#6f6f78"/>
<g transform="translate(639.00,170.60) scale(1.0)"><g transform="rotate(-10)"><path d="M0,0 L-2.3,0 A2.3,2.3 0 0 1 0,-2.3Z" fill="#45c6f2"/><path d="M0,0 L0,-2.3 A2.3,2.3 0 0 1 2.3,0Z" fill="#3fbf8a"/><path d="M0,0 L2.3,0 A2.3,2.3 0 0 1 0,2.3Z" fill="#f1c24a"/><path d="M0,0 L0,2.3 A2.3,2.3 0 0 1 -2.3,0Z" fill="#e8457a"/></g></g>
<text x="639.00" y="179.30" font-size="1.9" fill="#383838" text-anchor="middle" stroke="#383838" stroke-width="0.045">share_subject_line</text>
<text x="639.00" y="181.45" font-size="1.6" fill="#a0a0a0" text-anchor="middle">post: message</text>
<rect x="656.00" y="165.10" width="11.00" height="11.00" rx="0.9" fill="#fff" stroke="#d4d4d8" stroke-width="0.45"/>
<rect x="655.10" y="169.80" width="1.5" height="1.7" rx="0.3" fill="#6f6f78"/>
<rect x="666.60" y="169.80" width="1.5" height="1.7" rx="0.3" fill="#6f6f78"/>
<g transform="translate(661.50,170.60) scale(1.0)"><g transform="rotate(-10)"><path d="M0,0 L-2.3,0 A2.3,2.3 0 0 1 0,-2.3Z" fill="#45c6f2"/><path d="M0,0 L0,-2.3 A2.3,2.3 0 0 1 2.3,0Z" fill="#3fbf8a"/><path d="M0,0 L2.3,0 A2.3,2.3 0 0 1 0,2.3Z" fill="#f1c24a"/><path d="M0,0 L0,2.3 A2.3,2.3 0 0 1 -2.3,0Z" fill="#e8457a"/></g></g>
<text x="661.50" y="179.30" font-size="1.9" fill="#383838" text-anchor="middle" stroke="#383838" stroke-width="0.045">share_subject_line_reaso</text>
<text x="661.50" y="181.30" font-size="1.9" fill="#383838" text-anchor="middle" stroke="#383838" stroke-width="0.045">ning</text>
<text x="661.50" y="183.45" font-size="1.6" fill="#a0a0a0" text-anchor="middle">post: message</text>
<rect x="682.00" y="165.10" width="11.00" height="11.00" rx="0.9" fill="#fff" stroke="#d4d4d8" stroke-width="0.45"/>
<rect x="681.10" y="169.80" width="1.5" height="1.7" rx="0.3" fill="#6f6f78"/>
<rect x="692.60" y="169.80" width="1.5" height="1.7" rx="0.3" fill="#6f6f78"/>
<g transform="translate(687.50,170.60) scale(1.0)"><g transform="rotate(-10)"><path d="M0,0 L-2.3,0 A2.3,2.3 0 0 1 0,-2.3Z" fill="#45c6f2"/><path d="M0,0 L0,-2.3 A2.3,2.3 0 0 1 2.3,0Z" fill="#3fbf8a"/><path d="M0,0 L2.3,0 A2.3,2.3 0 0 1 0,2.3Z" fill="#f1c24a"/><path d="M0,0 L0,2.3 A2.3,2.3 0 0 1 -2.3,0Z" fill="#e8457a"/></g></g>
<text x="687.50" y="179.30" font-size="1.9" fill="#383838" text-anchor="middle" stroke="#383838" stroke-width="0.045">share_subject_line_appro</text>
<text x="687.50" y="181.30" font-size="1.9" fill="#383838" text-anchor="middle" stroke="#383838" stroke-width="0.045">val_feedback</text>
<text x="687.50" y="183.45" font-size="1.6" fill="#a0a0a0" text-anchor="middle">sendAndWait: message</text>
<rect x="702.80" y="165.10" width="26.00" height="11.00" rx="0.9" fill="#fff" stroke="#d4d4d8" stroke-width="0.45"/>
<rect x="701.90" y="169.80" width="1.5" height="1.7" rx="0.3" fill="#6f6f78"/>
<rect x="728.40" y="169.80" width="1.5" height="1.7" rx="0.3" fill="#6f6f78"/>
<g transform="translate(707.80,170.60) scale(0.88)"><rect x="-2.2" y="-2" width="1.3" height="1.3" fill="#222"/><rect x="0.9" y="-2" width="1.3" height="1.3" fill="#222"/><rect x="-0.65" y="0.9" width="1.3" height="1.3" fill="#222"/><path d="M-1.5,-0.7 L0,0.9 L1.5,-0.7" fill="none" stroke="#222" stroke-width="0.5"/></g>
<text x="711.80" y="170.30" font-size="1.9" fill="#444">extract_subject</text>
<text x="711.80" y="172.60" font-size="1.9" fill="#444">_line_approval</text>
<rect x="726.90" y="165.70" width="1.3" height="1.3" fill="none" stroke="#999" stroke-width="0.25"/>
<rect x="706.45" y="175.90" width="1.3" height="1.3" fill="#7a7fd6"/>
<text x="707.10" y="178.70" font-size="1.1" fill="#8a8fd8" text-anchor="middle">Model</text>
<rect x="723.55" y="175.90" width="1.3" height="1.3" fill="#7a7fd6"/>
<text x="724.20" y="178.70" font-size="1.1" fill="#8a8fd8" text-anchor="middle">Output Parser</text>
<rect x="739.70" y="165.10" width="11.00" height="11.00" rx="0.9" fill="#fff" stroke="#d4d4d8" stroke-width="0.45"/>
<rect x="738.80" y="169.80" width="1.5" height="1.7" rx="0.3" fill="#6f6f78"/>
<rect x="750.30" y="168.00" width="1.5" height="1.7" rx="0.3" fill="#6f6f78"/>
<rect x="750.30" y="171.60" width="1.5" height="1.7" rx="0.3" fill="#6f6f78"/>
<g transform="translate(745.20,170.60) scale(1.0)"><rect x="-2.3" y="-2.1" width="4.6" height="1.3" rx="0.65" fill="#2e9e58"/><rect x="-2.3" y="-0.3" width="4.6" height="1.3" rx="0.65" fill="#2e9e58"/><path d="M-0.9,1.2 L0.9,1.2 L0,2.5Z" fill="#7cc79a"/></g>
<text x="745.20" y="179.30" font-size="1.9" fill="#383838" text-anchor="middle" stroke="#383838" stroke-width="0.045">check_subject_line_feedb</text>
<text x="745.20" y="181.30" font-size="1.9" fill="#383838" text-anchor="middle" stroke="#383838" stroke-width="0.045">ack</text>
<rect x="252.50" y="319.70" width="11.00" height="11.00" rx="0.9" fill="#fff" stroke="#d4d4d8" stroke-width="0.45"/>
<rect x="251.60" y="324.40" width="1.5" height="1.7" rx="0.3" fill="#6f6f78"/>
<rect x="263.10" y="324.40" width="1.5" height="1.7" rx="0.3" fill="#6f6f78"/>
<g transform="translate(258.00,325.20) scale(1.0)"><path d="M-1.55,1.55 L1.65,-1.65" stroke="#3d3dec" stroke-width="1.55" stroke-linecap="round"/></g>
<text x="258.00" y="333.90" font-size="1.9" fill="#383838" text-anchor="middle" stroke="#383838" stroke-width="0.045">set_selected_stories</text>
<text x="258.00" y="336.05" font-size="1.6" fill="#a0a0a0" text-anchor="middle">manual</text>
<rect x="278.60" y="319.70" width="11.00" height="11.00" rx="0.9" fill="#fff" stroke="#d4d4d8" stroke-width="0.45"/>
<rect x="277.70" y="324.40" width="1.5" height="1.7" rx="0.3" fill="#6f6f78"/>
<rect x="289.20" y="324.40" width="1.5" height="1.7" rx="0.3" fill="#6f6f78"/>
<g transform="translate(284.10,325.20) scale(1.0)"><path d="M-2.4,0 L0.2,0" stroke="#c7a2f0" stroke-width="0.6"/><path d="M-0.6,-0.9 L0.3,0 L-0.6,0.9" fill="none" stroke="#c7a2f0" stroke-width="0.5"/><rect x="-0.1" y="-2.2" width="1.6" height="4.4" rx="0.8" fill="#cba6f3"/></g>
<text x="284.10" y="333.90" font-size="1.9" fill="#383838" text-anchor="middle" stroke="#383838" stroke-width="0.045">split_stories</text>
<rect x="308.30" y="319.70" width="11.00" height="11.00" rx="0.9" fill="#fff" stroke="#d4d4d8" stroke-width="0.45"/>
<rect x="307.40" y="324.40" width="1.5" height="1.7" rx="0.3" fill="#6f6f78"/>
<rect x="318.90" y="322.90" width="1.5" height="1.7" rx="0.3" fill="#6f6f78"/>
<rect x="318.90" y="325.90" width="1.5" height="1.7" rx="0.3" fill="#6f6f78"/>
<g transform="translate(313.80,325.20) scale(1.0)"><path d="M-2.2,-1.6 Q-2.2,-2.3 -1.5,-2.3 L1.7,-2.3 Q2.4,-2.3 2.4,-1.6 L2.4,1.4 Q2.4,2.2 1.6,2.2 L-1.5,2.2 Q-2.2,2.2 -2.2,1.5Z" fill="#35976f" transform="rotate(-8)"/><path d="M-1.2,0.3 A1.3,1.3 0 0 1 1.0,-0.8 M1.2,-0.1 A1.3,1.3 0 0 1 -1.0,1.0" fill="none" stroke="#e8f5ef" stroke-width="0.55"/></g>
<text x="313.80" y="333.90" font-size="1.9" fill="#383838" text-anchor="middle" stroke="#383838" stroke-width="0.045">iterate_stories</text>
<rect x="339.50" y="332.80" width="11.00" height="11.00" rx="0.9" fill="#fff" stroke="#d4d4d8" stroke-width="0.45"/>
<rect x="338.60" y="337.50" width="1.5" height="1.7" rx="0.3" fill="#6f6f78"/>
<rect x="350.10" y="337.50" width="1.5" height="1.7" rx="0.3" fill="#6f6f78"/>
<g transform="translate(345.00,338.30) scale(1.0)"><path d="M-1.55,1.55 L1.65,-1.65" stroke="#3d3dec" stroke-width="1.55" stroke-linecap="round"/></g>
<text x="345.00" y="347.00" font-size="1.9" fill="#383838" text-anchor="middle" stroke="#383838" stroke-width="0.045">set_current_segment</text>
<text x="345.00" y="349.15" font-size="1.6" fill="#a0a0a0" text-anchor="middle">manual</text>
<rect x="367.50" y="332.80" width="11.00" height="11.00" rx="0.9" fill="#fff" stroke="#d4d4d8" stroke-width="0.45"/>
<rect x="366.60" y="337.50" width="1.5" height="1.7" rx="0.3" fill="#6f6f78"/>
<rect x="378.10" y="337.50" width="1.5" height="1.7" rx="0.3" fill="#6f6f78"/>
<g transform="translate(373.00,338.30) scale(1.0)"><path d="M-2.4,0 L0.2,0" stroke="#c7a2f0" stroke-width="0.6"/><path d="M-0.6,-0.9 L0.3,0 L-0.6,0.9" fill="none" stroke="#c7a2f0" stroke-width="0.5"/><rect x="-0.1" y="-2.2" width="1.6" height="4.4" rx="0.8" fill="#cba6f3"/></g>
<text x="373.00" y="347.00" font-size="1.9" fill="#383838" text-anchor="middle" stroke="#383838" stroke-width="0.045">split_content_ids</text>
<rect x="393.50" y="332.80" width="11.00" height="11.00" rx="0.9" fill="#fff" stroke="#d4d4d8" stroke-width="0.45"/>
<rect x="392.60" y="337.50" width="1.5" height="1.7" rx="0.3" fill="#6f6f78"/>
<rect x="404.10" y="337.50" width="1.5" height="1.7" rx="0.3" fill="#6f6f78"/>
<g transform="translate(399.00,338.30) scale(1.0)"><circle r="2.4" fill="#8a8ef5"/><path d="M-1,-0.6 L1,-0.6 M-0.6,0.5 L0.6,0.5" stroke="#d4d6ff" stroke-width="0.4"/></g>
<rect x="402.50" y="333.40" width="1.4" height="1.2" fill="none" stroke="#999" stroke-width="0.25"/>
<text x="399.00" y="347.00" font-size="1.9" fill="#383838" text-anchor="middle" stroke="#383838" stroke-width="0.045">get_segment_content_inf</text>
<text x="399.00" y="349.00" font-size="1.9" fill="#383838" text-anchor="middle" stroke="#383838" stroke-width="0.045">o</text>
<rect x="419.50" y="332.80" width="11.00" height="11.00" rx="0.9" fill="#fff" stroke="#d4d4d8" stroke-width="0.45"/>
<rect x="418.60" y="337.50" width="1.5" height="1.7" rx="0.3" fill="#6f6f78"/>
<rect x="430.10" y="337.50" width="1.5" height="1.7" rx="0.3" fill="#6f6f78"/>
<g transform="translate(425.00,338.30) scale(1.0)"><path d="M-2.1,-2 L2.1,-2 L2.1,0.3 Q2.1,2 0,2.6 Q-2.1,2 -2.1,0.3 Z" fill="#2f7ad0"/><path d="M-0.5,-0.8 L0.5,-0.8 L0.5,0.9 L-0.5,0.9Z" fill="#8fc0f0"/></g>
<rect x="428.50" y="333.40" width="1.4" height="1.2" fill="none" stroke="#999" stroke-width="0.25"/>
<text x="425.00" y="347.00" font-size="1.9" fill="#383838" text-anchor="middle" stroke="#383838" stroke-width="0.045">download_segment_conte</text>
<text x="425.00" y="349.00" font-size="1.9" fill="#383838" text-anchor="middle" stroke="#383838" stroke-width="0.045">nt</text>
<text x="425.00" y="351.15" font-size="1.6" fill="#a0a0a0" text-anchor="middle">download: file</text>
<rect x="443.50" y="332.80" width="11.00" height="11.00" rx="0.9" fill="#fff" stroke="#d4d4d8" stroke-width="0.45"/>
<rect x="442.60" y="337.50" width="1.5" height="1.7" rx="0.3" fill="#6f6f78"/>
<rect x="454.10" y="337.50" width="1.5" height="1.7" rx="0.3" fill="#6f6f78"/>
<g transform="translate(449.00,338.30) scale(1.0)"><path d="M-2.3,-2.2 L2.3,-2.2 L2.3,-0.9 L0.7,-0.9 L0.7,2.4 L-0.7,2.4 L-0.7,-0.9 L-2.3,-0.9Z" fill="#3d9bf2"/></g>
<text x="449.00" y="347.00" font-size="1.9" fill="#383838" text-anchor="middle" stroke="#383838" stroke-width="0.045">filter_errors</text>
<rect x="466.50" y="332.80" width="11.00" height="11.00" rx="0.9" fill="#fff" stroke="#d4d4d8" stroke-width="0.45"/>
<rect x="465.60" y="337.50" width="1.5" height="1.7" rx="0.3" fill="#6f6f78"/>
<rect x="477.10" y="337.50" width="1.5" height="1.7" rx="0.3" fill="#6f6f78"/>
<g transform="translate(472.00,338.30) scale(1.0)"><path d="M-2.2,-2.2 L-0.6,-2.2 L-0.6,2.2 L-2.2,2.2Z" fill="#2c3470"/><path d="M-0.3,-1.6 L0.7,-1.6 L0.7,2.2 L-0.3,2.2Z" fill="#3b4487"/><path d="M1,0.2 L2.4,1.2 L1,2.2Z" fill="#2c3470"/></g>
<text x="472.00" y="347.00" font-size="1.9" fill="#383838" text-anchor="middle" stroke="#383838" stroke-width="0.045">get_segment_content_tex</text>
<text x="472.00" y="349.00" font-size="1.9" fill="#383838" text-anchor="middle" stroke="#383838" stroke-width="0.045">t</text>
<text x="472.00" y="351.15" font-size="1.6" fill="#a0a0a0" text-anchor="middle">Extract from Text File</text>
<rect x="494.20" y="332.80" width="11.00" height="11.00" rx="0.9" fill="#fff" stroke="#d4d4d8" stroke-width="0.45"/>
<rect x="493.30" y="337.50" width="1.5" height="1.7" rx="0.3" fill="#6f6f78"/>
<rect x="504.80" y="337.50" width="1.5" height="1.7" rx="0.3" fill="#6f6f78"/>
<g transform="translate(499.70,338.30) scale(1.0)"><path d="M-1.55,1.55 L1.65,-1.65" stroke="#3d3dec" stroke-width="1.55" stroke-linecap="round"/></g>
<text x="499.70" y="347.00" font-size="1.9" fill="#383838" text-anchor="middle" stroke="#383838" stroke-width="0.045">prepare_segment_content</text>
<text x="499.70" y="349.00" font-size="1.9" fill="#383838" text-anchor="middle" stroke="#383838" stroke-width="0.045">_item</text>
<text x="499.70" y="351.15" font-size="1.6" fill="#a0a0a0" text-anchor="middle">manual</text>
<rect x="516.50" y="332.80" width="11.00" height="11.00" rx="0.9" fill="#fff" stroke="#d4d4d8" stroke-width="0.45"/>
<rect x="515.60" y="337.50" width="1.5" height="1.7" rx="0.3" fill="#6f6f78"/>
<rect x="527.10" y="337.50" width="1.5" height="1.7" rx="0.3" fill="#6f6f78"/>
<g transform="translate(522.00,338.30) scale(1.0)"><path d="M-1.8,-2 L-0.6,-2 L-0.6,2 L-1.8,2Z M-0.3,-1.3 L2,0 L-0.3,1.3Z" fill="none" stroke="#ff6b5b" stroke-width="0.55"/><path d="M1.2,0 L2.6,0" stroke="#ff6b5b" stroke-width="0.5"/></g>
<text x="522.00" y="347.00" font-size="1.9" fill="#383838" text-anchor="middle" stroke="#383838" stroke-width="0.045">aggregate_segment_cont</text>
<text x="522.00" y="349.00" font-size="1.9" fill="#383838" text-anchor="middle" stroke="#383838" stroke-width="0.045">ent</text>
<rect x="540.50" y="332.80" width="11.00" height="11.00" rx="0.9" fill="#fff" stroke="#d4d4d8" stroke-width="0.45"/>
<rect x="539.60" y="337.50" width="1.5" height="1.7" rx="0.3" fill="#6f6f78"/>
<rect x="551.10" y="335.70" width="1.5" height="1.7" rx="0.3" fill="#6f6f78"/>
<rect x="551.10" y="339.30" width="1.5" height="1.7" rx="0.3" fill="#6f6f78"/>
<g transform="translate(546.00,338.30) scale(1.0)"><rect x="-2.3" y="-2.1" width="4.6" height="1.3" rx="0.65" fill="#2e9e58"/><rect x="-2.3" y="-0.3" width="4.6" height="1.3" rx="0.65" fill="#2e9e58"/><path d="M-0.9,1.2 L0.9,1.2 L0,2.5Z" fill="#7cc79a"/></g>
<text x="546.00" y="347.00" font-size="1.9" fill="#383838" text-anchor="middle" stroke="#383838" stroke-width="0.045">check_external_urls</text>
<rect x="568.50" y="314.30" width="11.00" height="11.00" rx="0.9" fill="#fff" stroke="#d4d4d8" stroke-width="0.45"/>
<rect x="567.60" y="319.00" width="1.5" height="1.7" rx="0.3" fill="#6f6f78"/>
<rect x="579.10" y="319.00" width="1.5" height="1.7" rx="0.3" fill="#6f6f78"/>
<g transform="translate(574.00,319.80) scale(1.0)"><path d="M-1.55,1.55 L1.65,-1.65" stroke="#3d3dec" stroke-width="1.55" stroke-linecap="round"/></g>
<text x="574.00" y="328.50" font-size="1.9" fill="#383838" text-anchor="middle" stroke="#383838" stroke-width="0.045">set_segment_external_so</text>
<text x="574.00" y="330.50" font-size="1.9" fill="#383838" text-anchor="middle" stroke="#383838" stroke-width="0.045">urce_links</text>
<text x="574.00" y="332.65" font-size="1.6" fill="#a0a0a0" text-anchor="middle">manual</text>
<rect x="594.50" y="314.30" width="11.00" height="11.00" rx="0.9" fill="#fff" stroke="#d4d4d8" stroke-width="0.45"/>
<rect x="593.60" y="319.00" width="1.5" height="1.7" rx="0.3" fill="#6f6f78"/>
<rect x="605.10" y="319.00" width="1.5" height="1.7" rx="0.3" fill="#6f6f78"/>
<g transform="translate(600.00,319.80) scale(1.0)"><path d="M-2.4,0 L0.2,0" stroke="#c7a2f0" stroke-width="0.6"/><path d="M-0.6,-0.9 L0.3,0 L-0.6,0.9" fill="none" stroke="#c7a2f0" stroke-width="0.5"/><rect x="-0.1" y="-2.2" width="1.6" height="4.4" rx="0.8" fill="#cba6f3"/></g>
<text x="600.00" y="328.50" font-size="1.9" fill="#383838" text-anchor="middle" stroke="#383838" stroke-width="0.045">split_segment_external_s</text>
<text x="600.00" y="330.50" font-size="1.9" fill="#383838" text-anchor="middle" stroke="#383838" stroke-width="0.045">ource_urls</text>
<rect x="618.50" y="314.30" width="11.00" height="11.00" rx="0.9" fill="#fff" stroke="#d4d4d8" stroke-width="0.45"/>
<rect x="617.60" y="319.00" width="1.5" height="1.7" rx="0.3" fill="#6f6f78"/>
<rect x="629.10" y="319.00" width="1.5" height="1.7" rx="0.3" fill="#6f6f78"/>
<g transform="translate(624.00,319.80) scale(1.0)"><path d="M-2.4,-0.8 L0.6,-2 L0.6,2 L-2.4,0.8Z" fill="#f8503a"/><circle cx="1.4" cy="0" r="1.1" fill="none" stroke="#f8503a" stroke-width="0.6"/></g>
<rect x="627.50" y="314.90" width="1.4" height="1.2" fill="none" stroke="#999" stroke-width="0.25"/>
<text x="624.00" y="328.50" font-size="1.9" fill="#383838" text-anchor="middle" stroke="#383838" stroke-width="0.045">scrape_segment_external</text>
<text x="624.00" y="330.50" font-size="1.9" fill="#383838" text-anchor="middle" stroke="#383838" stroke-width="0.045">_source_url</text>
<text x="624.00" y="332.65" font-size="1.6" fill="#a0a0a0" text-anchor="middle">scrape: scrape url</text>
<rect x="644.50" y="314.30" width="11.00" height="11.00" rx="0.9" fill="#fff" stroke="#d4d4d8" stroke-width="0.45"/>
<rect x="643.60" y="319.00" width="1.5" height="1.7" rx="0.3" fill="#6f6f78"/>
<rect x="655.10" y="319.00" width="1.5" height="1.7" rx="0.3" fill="#6f6f78"/>
<g transform="translate(650.00,319.80) scale(1.0)"><path d="M-2.4,-2.2 L2.4,-2.2 L0.6,0.2 L0.6,2.4 L-0.6,1.8 L-0.6,0.2Z" fill="#2a9af0"/></g>
<rect x="653.50" y="314.90" width="1.4" height="1.2" fill="none" stroke="#999" stroke-width="0.25"/>
<text x="650.00" y="328.50" font-size="1.9" fill="#383838" text-anchor="middle" stroke="#383838" stroke-width="0.045">filter_segment_scrape_fail</text>
<text x="650.00" y="330.50" font-size="1.9" fill="#383838" text-anchor="middle" stroke="#383838" stroke-width="0.045">ures</text>
<rect x="670.50" y="314.30" width="11.00" height="11.00" rx="0.9" fill="#fff" stroke="#d4d4d8" stroke-width="0.45"/>
<rect x="669.60" y="319.00" width="1.5" height="1.7" rx="0.3" fill="#6f6f78"/>
<rect x="681.10" y="319.00" width="1.5" height="1.7" rx="0.3" fill="#6f6f78"/>
<g transform="translate(676.00,319.80) scale(1.0)"><path d="M-1.8,-2 L-0.6,-2 L-0.6,2 L-1.8,2Z M-0.3,-1.3 L2,0 L-0.3,1.3Z" fill="none" stroke="#ff6b5b" stroke-width="0.55"/><path d="M1.2,0 L2.6,0" stroke="#ff6b5b" stroke-width="0.5"/></g>
<rect x="679.50" y="314.90" width="1.4" height="1.2" fill="none" stroke="#999" stroke-width="0.25"/>
<text x="676.00" y="328.50" font-size="1.9" fill="#383838" text-anchor="middle" stroke="#383838" stroke-width="0.045">aggregate_segment_exter</text>
<text x="676.00" y="330.50" font-size="1.9" fill="#383838" text-anchor="middle" stroke="#383838" stroke-width="0.045">nal_content</text>
<rect x="698.70" y="336.60" width="26.00" height="11.00" rx="0.9" fill="#fff" stroke="#d4d4d8" stroke-width="0.45"/>
<rect x="697.80" y="341.30" width="1.5" height="1.7" rx="0.3" fill="#6f6f78"/>
<rect x="724.30" y="341.30" width="1.5" height="1.7" rx="0.3" fill="#6f6f78"/>
<g transform="translate(703.70,342.10) scale(0.88)"><g transform="rotate(-40)"><rect x="-2.9" y="-1.1" width="3.3" height="2.2" rx="1.1" fill="none" stroke="#262626" stroke-width="0.95"/><rect x="-0.4" y="-1.1" width="3.3" height="2.2" rx="1.1" fill="none" stroke="#262626" stroke-width="0.95"/></g></g>
<text x="707.70" y="341.80" font-size="1.9" fill="#444">write_segment_c</text>
<text x="707.70" y="344.10" font-size="1.9" fill="#444">ontent</text>
<rect x="722.80" y="337.20" width="1.3" height="1.3" fill="none" stroke="#999" stroke-width="0.25"/>
<rect x="702.35" y="347.40" width="1.3" height="1.3" fill="#7a7fd6"/>
<text x="703.00" y="350.20" font-size="1.1" fill="#8a8fd8" text-anchor="middle">Model</text>
<rect x="719.45" y="347.40" width="1.3" height="1.3" fill="#7a7fd6"/>
<text x="720.10" y="350.20" font-size="1.1" fill="#8a8fd8" text-anchor="middle">Output Parser</text>
<rect x="738.00" y="336.60" width="26.00" height="11.00" rx="0.9" fill="#fff" stroke="#d4d4d8" stroke-width="0.45"/>
<rect x="737.10" y="341.30" width="1.5" height="1.7" rx="0.3" fill="#6f6f78"/>
<rect x="763.60" y="341.30" width="1.5" height="1.7" rx="0.3" fill="#6f6f78"/>
<g transform="translate(743.00,342.10) scale(0.88)"><g transform="rotate(-40)"><rect x="-2.9" y="-1.1" width="3.3" height="2.2" rx="1.1" fill="none" stroke="#262626" stroke-width="0.95"/><rect x="-0.4" y="-1.1" width="3.3" height="2.2" rx="1.1" fill="none" stroke="#262626" stroke-width="0.95"/></g></g>
<text x="747.00" y="342.80" font-size="1.9" fill="#444">extract_image_urls</text>
<rect x="762.10" y="337.20" width="1.3" height="1.3" fill="none" stroke="#999" stroke-width="0.25"/>
<rect x="741.65" y="347.40" width="1.3" height="1.3" fill="#7a7fd6"/>
<text x="742.30" y="350.20" font-size="1.1" fill="#8a8fd8" text-anchor="middle">Model</text>
<rect x="758.75" y="347.40" width="1.3" height="1.3" fill="#7a7fd6"/>
<text x="759.40" y="350.20" font-size="1.1" fill="#8a8fd8" text-anchor="middle">Output Parser</text>
<rect x="780.80" y="336.60" width="11.00" height="11.00" rx="0.9" fill="#fff" stroke="#d4d4d8" stroke-width="0.45"/>
<rect x="779.90" y="341.30" width="1.5" height="1.7" rx="0.3" fill="#6f6f78"/>
<rect x="791.40" y="341.30" width="1.5" height="1.7" rx="0.3" fill="#6f6f78"/>
<g transform="translate(786.30,342.10) scale(1.0)"><g transform="rotate(-10)"><path d="M0,0 L-2.3,0 A2.3,2.3 0 0 1 0,-2.3Z" fill="#45c6f2"/><path d="M0,0 L0,-2.3 A2.3,2.3 0 0 1 2.3,0Z" fill="#3fbf8a"/><path d="M0,0 L2.3,0 A2.3,2.3 0 0 1 0,2.3Z" fill="#f1c24a"/><path d="M0,0 L0,2.3 A2.3,2.3 0 0 1 -2.3,0Z" fill="#e8457a"/></g></g>
<text x="786.30" y="350.80" font-size="1.9" fill="#383838" text-anchor="middle" stroke="#383838" stroke-width="0.045">share_segment_msg</text>
<text x="786.30" y="352.95" font-size="1.6" fill="#a0a0a0" text-anchor="middle">post: message</text>
<rect x="805.00" y="336.60" width="11.00" height="11.00" rx="0.9" fill="#fff" stroke="#d4d4d8" stroke-width="0.45"/>
<rect x="804.10" y="341.30" width="1.5" height="1.7" rx="0.3" fill="#6f6f78"/>
<rect x="815.60" y="341.30" width="1.5" height="1.7" rx="0.3" fill="#6f6f78"/>
<g transform="translate(810.50,342.10) scale(1.0)"><path d="M-1.55,1.55 L1.65,-1.65" stroke="#3d3dec" stroke-width="1.55" stroke-linecap="round"/></g>
<text x="810.50" y="350.80" font-size="1.9" fill="#383838" text-anchor="middle" stroke="#383838" stroke-width="0.045">set_story_segment</text>
<text x="810.50" y="352.95" font-size="1.6" fill="#a0a0a0" text-anchor="middle">manual</text>
<rect x="754.60" y="276.60" width="11.00" height="11.00" rx="0.9" fill="#fff" stroke="#d4d4d8" stroke-width="0.45"/>
<rect x="753.70" y="281.30" width="1.5" height="1.7" rx="0.3" fill="#6f6f78"/>
<rect x="765.20" y="281.30" width="1.5" height="1.7" rx="0.3" fill="#6f6f78"/>
<g transform="translate(760.10,282.10) scale(1.0)"><path d="M-1.55,1.55 L1.65,-1.65" stroke="#3d3dec" stroke-width="1.55" stroke-linecap="round"/></g>
<text x="760.10" y="290.80" font-size="1.9" fill="#383838" text-anchor="middle" stroke="#383838" stroke-width="0.045">set_story_segments</text>
<text x="760.10" y="292.95" font-size="1.6" fill="#a0a0a0" text-anchor="middle">manual</text>
<rect x="780.80" y="276.60" width="11.00" height="11.00" rx="0.9" fill="#fff" stroke="#d4d4d8" stroke-width="0.45"/>
<rect x="779.90" y="281.30" width="1.5" height="1.7" rx="0.3" fill="#6f6f78"/>
<rect x="791.40" y="281.30" width="1.5" height="1.7" rx="0.3" fill="#6f6f78"/>
<g transform="translate(786.30,282.10) scale(1.0)"><path d="M-1.8,-2 L-0.6,-2 L-0.6,2 L-1.8,2Z M-0.3,-1.3 L2,0 L-0.3,1.3Z" fill="none" stroke="#ff6b5b" stroke-width="0.55"/><path d="M1.2,0 L2.6,0" stroke="#ff6b5b" stroke-width="0.5"/></g>
<text x="786.30" y="290.80" font-size="1.9" fill="#383838" text-anchor="middle" stroke="#383838" stroke-width="0.045">aggregate_story_sections</text>
<rect x="805.00" y="276.60" width="11.00" height="11.00" rx="0.9" fill="#fff" stroke="#d4d4d8" stroke-width="0.45"/>
<rect x="804.10" y="281.30" width="1.5" height="1.7" rx="0.3" fill="#6f6f78"/>
<rect x="815.60" y="281.30" width="1.5" height="1.7" rx="0.3" fill="#6f6f78"/>
<g transform="translate(810.50,282.10) scale(1.0)"><path d="M-1.55,1.55 L1.65,-1.65" stroke="#3d3dec" stroke-width="1.55" stroke-linecap="round"/></g>
<text x="810.50" y="290.80" font-size="1.9" fill="#383838" text-anchor="middle" stroke="#383838" stroke-width="0.045">set_combined_sections_c</text>
<text x="810.50" y="292.80" font-size="1.9" fill="#383838" text-anchor="middle" stroke="#383838" stroke-width="0.045">ontent</text>
<text x="810.50" y="294.95" font-size="1.6" fill="#a0a0a0" text-anchor="middle">manual</text>
<rect x="708.70" y="366.70" width="26.40" height="8.50" rx="4.25" fill="#ececf1" stroke="#dcdce3" stroke-width="0.4"/>
<g transform="translate(713.70,370.95) scale(0.9)"><path d="M-1.5,-1.7 L1.5,1.7" stroke="#1f1f1f" stroke-width="1.0"/><path d="M0.5,-0.2 L1.7,-1.5 M-0.5,0.2 L-1.7,1.5" stroke="#1f1f1f" stroke-width="0.8"/></g>
<text x="716.30" y="370.85" font-size="2.05" fill="#333">story_segment_outp</text>
<text x="716.30" y="373.25" font-size="2.05" fill="#333">ut_parser</text>
<path d="M713.50,376.20 L714.20,375.00 L714.90,376.20Z" fill="#7a7fd6"/>
<path d="M718.20,376.20 L718.90,375.00 L719.60,376.20Z" fill="#7a7fd6"/>
<rect x="721.20" y="365.40" width="1.4" height="1.2" fill="#7a7fd6"/>
<circle cx="721.90" cy="393.10" r="4.15" fill="#ececf1" stroke="#dcdce3" stroke-width="0.4"/>
<text x="721.90" y="394.05" font-size="2.7" font-weight="bold" text-anchor="middle" fill="#3a3a3a">{/}</text>
<rect x="721.20" y="387.65" width="1.4" height="1.2" fill="#7a7fd6"/>
<text x="721.90" y="400.05" font-size="1.9" fill="#444" text-anchor="middle">story_segment_outp</text>
<text x="721.90" y="402.45" font-size="1.9" fill="#444" text-anchor="middle">ut_parser</text>
<rect x="745.90" y="366.70" width="26.50" height="8.50" rx="4.25" fill="#ececf1" stroke="#dcdce3" stroke-width="0.4"/>
<g transform="translate(750.90,370.95) scale(0.9)"><path d="M-1.5,-1.7 L1.5,1.7" stroke="#1f1f1f" stroke-width="1.0"/><path d="M0.5,-0.2 L1.7,-1.5 M-0.5,0.2 L-1.7,1.5" stroke="#1f1f1f" stroke-width="0.8"/></g>
<text x="753.50" y="370.85" font-size="2.05" fill="#333">image_url_auto_par</text>
<text x="753.50" y="373.25" font-size="2.05" fill="#333">ser</text>
<path d="M750.70,376.20 L751.40,375.00 L752.10,376.20Z" fill="#7a7fd6"/>
<path d="M755.40,376.20 L756.10,375.00 L756.80,376.20Z" fill="#7a7fd6"/>
<rect x="758.45" y="365.40" width="1.4" height="1.2" fill="#7a7fd6"/>
<circle cx="759.10" cy="393.10" r="4.10" fill="#ececf1" stroke="#dcdce3" stroke-width="0.4"/>
<text x="759.10" y="394.05" font-size="2.7" font-weight="bold" text-anchor="middle" fill="#3a3a3a">{/}</text>
<rect x="758.40" y="387.70" width="1.4" height="1.2" fill="#7a7fd6"/>
<text x="759.10" y="400.00" font-size="1.9" fill="#444" text-anchor="middle">extract_image_urls_parser</text>
<rect x="252.40" y="453.60" width="26.00" height="11.00" rx="0.9" fill="#fff" stroke="#d4d4d8" stroke-width="0.45"/>
<rect x="251.50" y="458.30" width="1.5" height="1.7" rx="0.3" fill="#6f6f78"/>
<rect x="278.00" y="458.30" width="1.5" height="1.7" rx="0.3" fill="#6f6f78"/>
<g transform="translate(257.40,459.10) scale(0.88)"><g transform="rotate(-40)"><rect x="-2.9" y="-1.1" width="3.3" height="2.2" rx="1.1" fill="none" stroke="#262626" stroke-width="0.95"/><rect x="-0.4" y="-1.1" width="3.3" height="2.2" rx="1.1" fill="none" stroke="#262626" stroke-width="0.95"/></g></g>
<text x="261.40" y="459.80" font-size="1.9" fill="#444">write_intro</text>
<rect x="276.50" y="454.20" width="1.3" height="1.3" fill="none" stroke="#999" stroke-width="0.25"/>
<rect x="256.05" y="464.40" width="1.3" height="1.3" fill="#7a7fd6"/>
<text x="256.70" y="467.20" font-size="1.1" fill="#8a8fd8" text-anchor="middle">Model</text>
<rect x="273.15" y="464.40" width="1.3" height="1.3" fill="#7a7fd6"/>
<text x="273.80" y="467.20" font-size="1.1" fill="#8a8fd8" text-anchor="middle">Output Parser</text>
<rect x="254.40" y="480.00" width="27.60" height="9.20" rx="4.60" fill="#ececf1" stroke="#dcdce3" stroke-width="0.4"/>
<g transform="translate(259.40,484.60) scale(0.9)"><path d="M-1.5,-1.7 L1.5,1.7" stroke="#1f1f1f" stroke-width="1.0"/><path d="M0.5,-0.2 L1.7,-1.5 M-0.5,0.2 L-1.7,1.5" stroke="#1f1f1f" stroke-width="0.8"/></g>
<text x="262.00" y="484.50" font-size="2.05" fill="#333">intro_auto_parser</text>
<text x="262.00" y="486.90" font-size="2.05" fill="#333"></text>
<path d="M259.20,490.20 L259.90,489.00 L260.60,490.20Z" fill="#7a7fd6"/>
<path d="M263.90,490.20 L264.60,489.00 L265.30,490.20Z" fill="#7a7fd6"/>
<rect x="267.50" y="478.70" width="1.4" height="1.2" fill="#7a7fd6"/>
<circle cx="266.30" cy="505.00" r="4.40" fill="#ececf1" stroke="#dcdce3" stroke-width="0.4"/>
<text x="266.30" y="505.95" font-size="2.7" font-weight="bold" text-anchor="middle" fill="#3a3a3a">{/}</text>
<rect x="265.60" y="499.30" width="1.4" height="1.2" fill="#7a7fd6"/>
<text x="266.30" y="512.20" font-size="1.9" fill="#444" text-anchor="middle">intro_parser</text>
<rect x="317.40" y="453.60" width="26.00" height="11.00" rx="0.9" fill="#fff" stroke="#d4d4d8" stroke-width="0.45"/>
<rect x="316.50" y="458.30" width="1.5" height="1.7" rx="0.3" fill="#6f6f78"/>
<rect x="343.00" y="458.30" width="1.5" height="1.7" rx="0.3" fill="#6f6f78"/>
<g transform="translate(322.40,459.10) scale(0.88)"><g transform="rotate(-40)"><rect x="-2.9" y="-1.1" width="3.3" height="2.2" rx="1.1" fill="none" stroke="#262626" stroke-width="0.95"/><rect x="-0.4" y="-1.1" width="3.3" height="2.2" rx="1.1" fill="none" stroke="#262626" stroke-width="0.95"/></g></g>
<text x="326.40" y="458.80" font-size="1.9" fill="#444">write_shortlist</text>
<text x="326.40" y="461.10" font-size="1.9" fill="#444">_section</text>
<rect x="341.50" y="454.20" width="1.3" height="1.3" fill="none" stroke="#999" stroke-width="0.25"/>
<rect x="321.05" y="464.40" width="1.3" height="1.3" fill="#7a7fd6"/>
<text x="321.70" y="467.20" font-size="1.1" fill="#8a8fd8" text-anchor="middle">Model</text>
<rect x="338.15" y="464.40" width="1.3" height="1.3" fill="#7a7fd6"/>
<text x="338.80" y="467.20" font-size="1.1" fill="#8a8fd8" text-anchor="middle">Output Parser</text>
<rect x="319.80" y="480.20" width="26.30" height="9.00" rx="4.50" fill="#ececf1" stroke="#dcdce3" stroke-width="0.4"/>
<g transform="translate(324.80,484.70) scale(0.9)"><path d="M-1.5,-1.7 L1.5,1.7" stroke="#1f1f1f" stroke-width="1.0"/><path d="M0.5,-0.2 L1.7,-1.5 M-0.5,0.2 L-1.7,1.5" stroke="#1f1f1f" stroke-width="0.8"/></g>
<text x="327.40" y="484.60" font-size="2.05" fill="#333">shortlist_auto_par</text>
<text x="327.40" y="487.00" font-size="2.05" fill="#333">ser</text>
<path d="M324.60,490.20 L325.30,489.00 L326.00,490.20Z" fill="#7a7fd6"/>
<path d="M329.30,490.20 L330.00,489.00 L330.70,490.20Z" fill="#7a7fd6"/>
<rect x="332.25" y="478.90" width="1.4" height="1.2" fill="#7a7fd6"/>
<circle cx="331.00" cy="505.00" r="4.00" fill="#ececf1" stroke="#dcdce3" stroke-width="0.4"/>
<text x="331.00" y="505.95" font-size="2.7" font-weight="bold" text-anchor="middle" fill="#3a3a3a">{/}</text>
<rect x="330.30" y="499.70" width="1.4" height="1.2" fill="#7a7fd6"/>
<text x="331.00" y="511.80" font-size="1.9" fill="#444" text-anchor="middle">shortlist_section_parser</text>
<rect x="378.80" y="453.60" width="11.00" height="11.00" rx="0.9" fill="#fff" stroke="#d4d4d8" stroke-width="0.45"/>
<rect x="377.90" y="458.30" width="1.5" height="1.7" rx="0.3" fill="#6f6f78"/>
<rect x="389.40" y="458.30" width="1.5" height="1.7" rx="0.3" fill="#6f6f78"/>
<g transform="translate(384.30,459.10) scale(1.0)"><path d="M-1.55,1.55 L1.65,-1.65" stroke="#3d3dec" stroke-width="1.55" stroke-linecap="round"/></g>
<text x="384.30" y="467.80" font-size="1.9" fill="#383838" text-anchor="middle" stroke="#383838" stroke-width="0.045">set_full_newsletter</text>
<text x="384.30" y="469.95" font-size="1.6" fill="#a0a0a0" text-anchor="middle">manual</text>
<rect x="406.80" y="453.60" width="11.00" height="11.00" rx="0.9" fill="#fff" stroke="#d4d4d8" stroke-width="0.45"/>
<rect x="405.90" y="458.30" width="1.5" height="1.7" rx="0.3" fill="#6f6f78"/>
<rect x="417.40" y="458.30" width="1.5" height="1.7" rx="0.3" fill="#6f6f78"/>
<g transform="translate(412.30,459.10) scale(1.0)"><path d="M-1.6,-2.2 L0.6,-2.2 L1.8,-1 L1.8,2.2 L-1.6,2.2Z" fill="#4b4be6"/><path d="M-0.8,-0.4 L1,-0.4 M-0.8,0.6 L1,0.6" stroke="#c8c8ff" stroke-width="0.3"/></g>
<text x="412.30" y="467.80" font-size="1.9" fill="#383838" text-anchor="middle" stroke="#383838" stroke-width="0.045">create_newsletter_file</text>
<text x="412.30" y="469.95" font-size="1.6" fill="#a0a0a0" text-anchor="middle">convert to text file</text>
<rect x="432.60" y="453.60" width="11.00" height="11.00" rx="0.9" fill="#fff" stroke="#d4d4d8" stroke-width="0.45"/>
<rect x="431.70" y="458.30" width="1.5" height="1.7" rx="0.3" fill="#6f6f78"/>
<rect x="443.20" y="458.30" width="1.5" height="1.7" rx="0.3" fill="#6f6f78"/>
<g transform="translate(438.10,459.10) scale(1.0)"><g transform="rotate(-10)"><path d="M0,0 L-2.3,0 A2.3,2.3 0 0 1 0,-2.3Z" fill="#45c6f2"/><path d="M0,0 L0,-2.3 A2.3,2.3 0 0 1 2.3,0Z" fill="#3fbf8a"/><path d="M0,0 L2.3,0 A2.3,2.3 0 0 1 0,2.3Z" fill="#f1c24a"/><path d="M0,0 L0,2.3 A2.3,2.3 0 0 1 -2.3,0Z" fill="#e8457a"/></g></g>
<text x="438.10" y="467.80" font-size="1.9" fill="#383838" text-anchor="middle" stroke="#383838" stroke-width="0.045">upload_newsletter_file</text>
<text x="438.10" y="469.95" font-size="1.6" fill="#a0a0a0" text-anchor="middle">upload: file</text>
<rect x="460.60" y="453.60" width="11.00" height="11.00" rx="0.9" fill="#fff" stroke="#d4d4d8" stroke-width="0.45"/>
<rect x="459.70" y="458.30" width="1.5" height="1.7" rx="0.3" fill="#6f6f78"/>
<rect x="471.20" y="458.30" width="1.5" height="1.7" rx="0.3" fill="#6f6f78"/>
<g transform="translate(466.10,459.10) scale(1.0)"><g transform="rotate(-10)"><path d="M0,0 L-2.3,0 A2.3,2.3 0 0 1 0,-2.3Z" fill="#45c6f2"/><path d="M0,0 L0,-2.3 A2.3,2.3 0 0 1 2.3,0Z" fill="#3fbf8a"/><path d="M0,0 L2.3,0 A2.3,2.3 0 0 1 0,2.3Z" fill="#f1c24a"/><path d="M0,0 L0,2.3 A2.3,2.3 0 0 1 -2.3,0Z" fill="#e8457a"/></g></g>
<text x="466.10" y="467.80" font-size="1.9" fill="#383838" text-anchor="middle" stroke="#383838" stroke-width="0.045">share_newsletter_msg</text>
<text x="466.10" y="469.95" font-size="1.6" fill="#a0a0a0" text-anchor="middle">post: message</text>
<rect x="486.60" y="453.60" width="11.00" height="11.00" rx="0.9" fill="#fff" stroke="#d4d4d8" stroke-width="0.45"/>
<rect x="485.70" y="458.30" width="1.5" height="1.7" rx="0.3" fill="#6f6f78"/>
<rect x="497.20" y="458.30" width="1.5" height="1.7" rx="0.3" fill="#6f6f78"/>
<g transform="translate(492.10,459.10) scale(1.0)"><path d="M-1.55,1.55 L1.65,-1.65" stroke="#3d3dec" stroke-width="1.55" stroke-linecap="round"/></g>
<text x="492.10" y="467.80" font-size="1.9" fill="#383838" text-anchor="middle" stroke="#383838" stroke-width="0.045">set_final_output</text>
<text x="492.10" y="469.95" font-size="1.6" fill="#a0a0a0" text-anchor="middle">manual</text>
<circle cx="595.50" cy="508.50" r="4.50" fill="#ececf1" stroke="#dcdce3" stroke-width="0.4"/>
<text x="595.50" y="509.50" font-size="3" font-weight="bold" text-anchor="middle" font-family="Liberation Sans" fill="#333">AI</text>
<rect x="594.80" y="502.70" width="1.4" height="1.2" fill="#7a7fd6"/>
<text x="595.50" y="515.80" font-size="1.9" fill="#444" text-anchor="middle">claude-4-sonnet</text>
<circle cx="617.50" cy="508.50" r="4.50" fill="#ececf1" stroke="#dcdce3" stroke-width="0.4"/>
<g transform="translate(617.50,508.50) scale(1.0)"><path d="M-1.6,-1.6 L0,-2.2 L0,0Z" fill="#ea4335"/><path d="M0,-2.2 L1.8,-1.2 L0,0Z" fill="#fbbc04"/><path d="M1.8,-1.2 L1.6,1.4 L0,0Z" fill="#34a853"/><path d="M1.6,1.4 L-0.2,2.2 L0,0Z" fill="#4285f4"/><path d="M-0.2,2.2 L-1.8,1 L0,0Z" fill="#34a853"/><path d="M-1.8,1 L-1.6,-1.6 L0,0Z" fill="#4285f4"/><circle r="0.8" fill="#fff"/></g>
<rect x="616.80" y="502.70" width="1.4" height="1.2" fill="#7a7fd6"/>
<text x="617.50" y="515.80" font-size="1.9" fill="#444" text-anchor="middle">gemini-2.5-pro</text>
</svg>
<svg width="1024" height="601" viewBox="0 0 1024 601">
<path d="M1009.8,12.2 L1012.8,9.2" stroke="#222230" stroke-width="0.6"/><path d="M1014.6,7.8 L1014.6,10.5 L1011.9,7.8Z M1008.3,14.3 L1008.3,11.6 L1011.0,14.3Z" fill="#1d1d2b" stroke="#1d1d2b" stroke-width="0.3" stroke-linejoin="round"/>
</svg>
<div class="btn" style="left:14px"><svg width="21" height="21" viewBox="0.4 0.3 21 21"><path d="M7,9 L7,7 L9,7 M12,7 L14,7 L14,9 M14,12 L14,14 L12,14 M9,14 L7,14 L7,12" stroke="#777" stroke-width="1" fill="none"/></svg></div>
<div class="btn" style="left:42.8px"><svg width="21" height="21" viewBox="0.4 0.3 21 21"><circle cx="10" cy="10" r="3" stroke="#666" stroke-width="0.9" fill="none"/><path d="M12.2,12.2 L14.3,14.3 M8.6,10 L11.4,10 M10,8.6 L10,11.4" stroke="#666" stroke-width="0.9"/></svg></div>
<div class="btn" style="left:71.6px"><svg width="21" height="21" viewBox="0.4 0.3 21 21"><circle cx="10" cy="10" r="3" stroke="#666" stroke-width="0.9" fill="none"/><path d="M12.2,12.2 L14.3,14.3 M8.6,10 L11.4,10" stroke="#666" stroke-width="0.9"/></svg></div>
<div class="btn" style="left:100.4px"><svg width="21" height="21" viewBox="0.4 0.3 21 21"><path d="M9,8.2 L12,8.2 A2.5,2.5 0 0 1 12,13.2 L10,13.2 M9.8,6.6 L8.2,8.2 L9.8,9.8" stroke="#666" stroke-width="0.9" fill="none"/></svg></div>
</body></html>
